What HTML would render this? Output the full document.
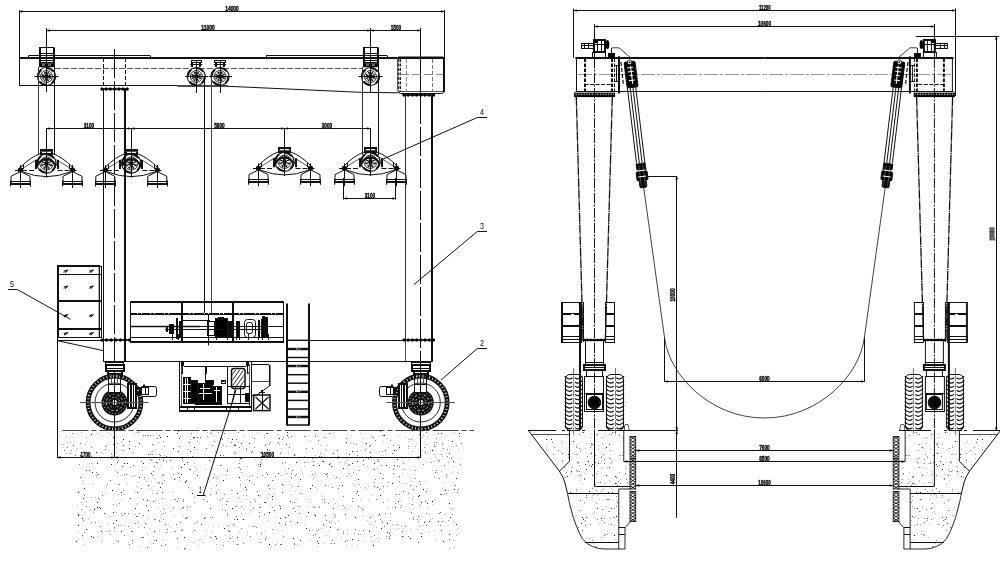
<!DOCTYPE html>
<html><head><meta charset="utf-8"><style>
html,body{margin:0;padding:0;background:#fff;}
body{width:1000px;height:572px;overflow:hidden;}
svg{display:block;font-family:"Liberation Sans",sans-serif;}
</style></head><body>
<svg width="1000" height="572" viewBox="0 0 1000 572">
<rect width="1000" height="572" fill="#fff"/>
<path d="M78.5 492.5h.01M232.5 439.5h.01M229.5 531.5h.01M173.5 448.5h.01M279.5 438.5h.01M123.5 445.5h.01M215.5 536.5h.01M296.5 462.5h.01M308.5 512.5h.01M97.5 507.5h.01M194.5 437.5h.01M197.5 475.5h.01M246.5 489.5h.01M394.5 450.5h.01M267.5 474.5h.01M352.5 451.5h.01M399.5 447.5h.01M185.5 518.5h.01M282.5 484.5h.01M97.5 463.5h.01M374.5 463.5h.01M288.5 515.5h.01M197.5 437.5h.01M181.5 474.5h.01M137.5 492.5h.01M274.5 510.5h.01M357.5 461.5h.01M287.5 432.5h.01M245.5 487.5h.01M423.5 489.5h.01M167.5 436.5h.01M280.5 518.5h.01M319.5 465.5h.01M92.5 472.5h.01M402.5 536.5h.01M453.5 461.5h.01M315.5 515.5h.01M343.5 468.5h.01M113.5 437.5h.01M438.5 521.5h.01M190.5 451.5h.01M392.5 483.5h.01M387.5 523.5h.01M184.5 464.5h.01M363.5 460.5h.01M163.5 441.5h.01M373.5 545.5h.01M280.5 508.5h.01M317.5 541.5h.01M454.5 489.5h.01M352.5 539.5h.01M285.5 522.5h.01M249.5 443.5h.01M124.5 525.5h.01M265.5 539.5h.01M148.5 510.5h.01M310.5 488.5h.01M156.5 540.5h.01M78.5 525.5h.01M181.5 467.5h.01M240.5 458.5h.01M143.5 537.5h.01M114.5 434.5h.01M313.5 465.5h.01M185.5 482.5h.01M100.5 508.5h.01M216.5 538.5h.01M135.5 508.5h.01M139.5 477.5h.01M183.5 507.5h.01M395.5 507.5h.01M323.5 461.5h.01M112.5 490.5h.01M418.5 496.5h.01M96.5 452.5h.01M318.5 543.5h.01M287.5 435.5h.01M249.5 480.5h.01M91.5 536.5h.01M450.5 517.5h.01M386.5 465.5h.01M389.5 538.5h.01M267.5 449.5h.01M267.5 433.5h.01M129.5 441.5h.01M443.5 541.5h.01M300.5 479.5h.01M297.5 522.5h.01M187.5 462.5h.01M113.5 512.5h.01M349.5 454.5h.01M410.5 538.5h.01M194.5 447.5h.01M294.5 455.5h.01M237.5 493.5h.01M272.5 496.5h.01M260.5 464.5h.01M389.5 533.5h.01M345.5 541.5h.01M290.5 501.5h.01M366.5 443.5h.01M306.5 528.5h.01M124.5 463.5h.01M239.5 477.5h.01M220.5 438.5h.01M148.5 485.5h.01M260.5 466.5h.01M182.5 458.5h.01M355.5 517.5h.01M179.5 477.5h.01M429.5 521.5h.01M394.5 465.5h.01M312.5 485.5h.01M369.5 531.5h.01M342.5 485.5h.01M123.5 439.5h.01M177.5 501.5h.01M452.5 441.5h.01M147.5 500.5h.01M265.5 502.5h.01M285.5 524.5h.01M398.5 501.5h.01M421.5 502.5h.01M151.5 473.5h.01M178.5 451.5h.01M432.5 501.5h.01M449.5 503.5h.01M160.5 487.5h.01M113.5 523.5h.01M269.5 544.5h.01M91.5 434.5h.01M432.5 450.5h.01M177.5 433.5h.01M116.5 520.5h.01M124.5 513.5h.01M379.5 514.5h.01M184.5 537.5h.01M357.5 491.5h.01M127.5 463.5h.01M184.5 548.5h.01M421.5 536.5h.01M268.5 485.5h.01M154.5 531.5h.01M424.5 522.5h.01M358.5 479.5h.01M86.5 529.5h.01M192.5 493.5h.01M160.5 455.5h.01M237.5 537.5h.01M232.5 508.5h.01M139.5 443.5h.01M78.5 515.5h.01M456.5 478.5h.01M101.5 531.5h.01M83.5 498.5h.01M94.5 509.5h.01M93.5 537.5h.01M258.5 495.5h.01M220.5 455.5h.01M117.5 462.5h.01M223.5 480.5h.01M401.5 526.5h.01M104.5 513.5h.01M380.5 473.5h.01M163.5 460.5h.01M224.5 528.5h.01M111.5 464.5h.01M84.5 488.5h.01M80.5 455.5h.01M241.5 443.5h.01M387.5 532.5h.01M377.5 487.5h.01M419.5 495.5h.01M97.5 502.5h.01M82.5 518.5h.01M427.5 503.5h.01M384.5 435.5h.01M121.5 492.5h.01M174.5 479.5h.01M387.5 486.5h.01M278.5 473.5h.01M456.5 524.5h.01M380.5 495.5h.01M156.5 462.5h.01M179.5 438.5h.01M370.5 452.5h.01M237.5 519.5h.01M329.5 464.5h.01M129.5 448.5h.01M204.5 518.5h.01M397.5 459.5h.01M346.5 442.5h.01M235.5 445.5h.01M449.5 534.5h.01M243.5 519.5h.01M326.5 474.5h.01M300.5 540.5h.01M121.5 531.5h.01M285.5 517.5h.01M293.5 538.5h.01M76.5 541.5h.01M269.5 512.5h.01M330.5 527.5h.01M143.5 463.5h.01M352.5 463.5h.01M459.5 433.5h.01M160.5 437.5h.01M381.5 528.5h.01" stroke="#222" stroke-width="1" stroke-linecap="square" fill="none"/>
<path d="M84.5 495.5h.01M181.5 529.5h.01M293.5 508.5h.01M139.5 513.5h.01M183.5 501.5h.01M413.5 519.5h.01M456.5 445.5h.01M365.5 449.5h.01M369.5 446.5h.01M390.5 535.5h.01M447.5 449.5h.01M150.5 459.5h.01M382.5 478.5h.01M82.5 456.5h.01M117.5 443.5h.01M306.5 448.5h.01M96.5 472.5h.01M444.5 494.5h.01M162.5 475.5h.01M390.5 520.5h.01M446.5 475.5h.01M148.5 454.5h.01M375.5 521.5h.01M128.5 526.5h.01M141.5 461.5h.01M153.5 501.5h.01M382.5 451.5h.01M352.5 498.5h.01M98.5 498.5h.01M264.5 514.5h.01M236.5 439.5h.01M396.5 450.5h.01M266.5 472.5h.01M78.5 514.5h.01M82.5 535.5h.01M152.5 444.5h.01M75.5 455.5h.01M180.5 522.5h.01M260.5 452.5h.01M280.5 453.5h.01M344.5 507.5h.01M83.5 520.5h.01M411.5 512.5h.01M154.5 466.5h.01M119.5 484.5h.01M163.5 441.5h.01M72.5 433.5h.01M415.5 478.5h.01M334.5 514.5h.01M67.5 447.5h.01M163.5 519.5h.01M257.5 477.5h.01M318.5 440.5h.01M159.5 520.5h.01M438.5 433.5h.01M239.5 463.5h.01M418.5 516.5h.01M239.5 467.5h.01M347.5 540.5h.01M296.5 474.5h.01M434.5 446.5h.01M178.5 498.5h.01M123.5 450.5h.01M426.5 491.5h.01M239.5 447.5h.01M418.5 521.5h.01M224.5 494.5h.01M193.5 438.5h.01M313.5 535.5h.01M166.5 461.5h.01M179.5 446.5h.01M319.5 537.5h.01M259.5 512.5h.01M147.5 435.5h.01M227.5 513.5h.01M182.5 530.5h.01M145.5 523.5h.01M445.5 490.5h.01M443.5 448.5h.01M436.5 470.5h.01M327.5 476.5h.01M441.5 433.5h.01M446.5 477.5h.01M189.5 469.5h.01M375.5 440.5h.01M259.5 516.5h.01M175.5 499.5h.01M357.5 455.5h.01M292.5 470.5h.01M461.5 443.5h.01M294.5 543.5h.01M410.5 485.5h.01M299.5 506.5h.01M206.5 448.5h.01M138.5 432.5h.01M333.5 453.5h.01M80.5 443.5h.01M122.5 515.5h.01M183.5 499.5h.01M228.5 530.5h.01M416.5 486.5h.01M434.5 444.5h.01M309.5 530.5h.01M377.5 457.5h.01M402.5 531.5h.01M212.5 445.5h.01M280.5 506.5h.01M227.5 501.5h.01M325.5 485.5h.01M374.5 486.5h.01M231.5 442.5h.01M355.5 529.5h.01M436.5 438.5h.01M167.5 529.5h.01M260.5 542.5h.01M162.5 492.5h.01M70.5 453.5h.01M272.5 507.5h.01M295.5 511.5h.01M116.5 505.5h.01M98.5 474.5h.01M294.5 502.5h.01M439.5 460.5h.01M375.5 479.5h.01M272.5 480.5h.01M280.5 544.5h.01M318.5 529.5h.01M150.5 435.5h.01M442.5 521.5h.01M415.5 470.5h.01M288.5 468.5h.01M435.5 472.5h.01M81.5 502.5h.01M442.5 443.5h.01M95.5 522.5h.01M233.5 524.5h.01M343.5 496.5h.01M256.5 527.5h.01M161.5 545.5h.01M143.5 515.5h.01M312.5 474.5h.01M419.5 434.5h.01M210.5 537.5h.01M363.5 509.5h.01M326.5 520.5h.01M152.5 454.5h.01M343.5 533.5h.01M118.5 460.5h.01M269.5 450.5h.01M380.5 519.5h.01M260.5 507.5h.01M113.5 504.5h.01M358.5 540.5h.01M290.5 521.5h.01M333.5 508.5h.01M313.5 461.5h.01M241.5 506.5h.01M331.5 543.5h.01M323.5 525.5h.01M223.5 545.5h.01M200.5 437.5h.01M218.5 432.5h.01M227.5 515.5h.01M440.5 494.5h.01M383.5 478.5h.01M147.5 547.5h.01M106.5 531.5h.01M403.5 463.5h.01M158.5 482.5h.01M170.5 460.5h.01M426.5 525.5h.01M282.5 463.5h.01M246.5 448.5h.01M399.5 476.5h.01M334.5 543.5h.01M457.5 492.5h.01M370.5 456.5h.01M175.5 531.5h.01M190.5 469.5h.01M178.5 431.5h.01M299.5 513.5h.01M285.5 462.5h.01M227.5 469.5h.01M238.5 432.5h.01M319.5 456.5h.01M154.5 519.5h.01M243.5 543.5h.01M390.5 440.5h.01M254.5 438.5h.01M114.5 527.5h.01M319.5 507.5h.01M376.5 499.5h.01M343.5 531.5h.01M395.5 503.5h.01M230.5 538.5h.01M332.5 487.5h.01M250.5 502.5h.01M203.5 499.5h.01M119.5 503.5h.01M254.5 499.5h.01M159.5 435.5h.01M283.5 536.5h.01M216.5 485.5h.01M145.5 435.5h.01M440.5 512.5h.01M252.5 451.5h.01M400.5 507.5h.01M194.5 530.5h.01M312.5 448.5h.01M164.5 480.5h.01M166.5 532.5h.01M123.5 490.5h.01M141.5 488.5h.01M160.5 455.5h.01M434.5 442.5h.01M396.5 494.5h.01M233.5 541.5h.01M289.5 447.5h.01M370.5 517.5h.01M258.5 464.5h.01M250.5 536.5h.01M131.5 531.5h.01M186.5 517.5h.01M451.5 458.5h.01M73.5 445.5h.01M439.5 478.5h.01M399.5 494.5h.01M440.5 525.5h.01M153.5 471.5h.01M438.5 461.5h.01M163.5 513.5h.01M157.5 493.5h.01M444.5 465.5h.01M446.5 493.5h.01M246.5 495.5h.01M105.5 446.5h.01M221.5 465.5h.01M137.5 516.5h.01M279.5 505.5h.01M182.5 460.5h.01M176.5 524.5h.01M82.5 536.5h.01M80.5 477.5h.01M356.5 444.5h.01M448.5 520.5h.01M412.5 504.5h.01M403.5 491.5h.01M130.5 467.5h.01M270.5 442.5h.01M272.5 529.5h.01M419.5 481.5h.01M315.5 436.5h.01M223.5 445.5h.01M187.5 517.5h.01M425.5 501.5h.01M235.5 506.5h.01M253.5 526.5h.01M126.5 474.5h.01M102.5 495.5h.01M393.5 473.5h.01M133.5 465.5h.01M385.5 450.5h.01M295.5 475.5h.01M165.5 524.5h.01M324.5 499.5h.01M214.5 441.5h.01M99.5 499.5h.01M348.5 465.5h.01M408.5 446.5h.01M327.5 473.5h.01M325.5 515.5h.01M71.5 450.5h.01M182.5 508.5h.01M397.5 524.5h.01M304.5 436.5h.01M100.5 526.5h.01M157.5 438.5h.01M223.5 455.5h.01M237.5 544.5h.01M177.5 538.5h.01M279.5 523.5h.01M328.5 503.5h.01M173.5 474.5h.01M79.5 464.5h.01M188.5 487.5h.01M286.5 444.5h.01M322.5 461.5h.01M399.5 466.5h.01M359.5 470.5h.01M393.5 469.5h.01M257.5 491.5h.01M337.5 450.5h.01M405.5 526.5h.01M227.5 471.5h.01M122.5 466.5h.01M285.5 473.5h.01M89.5 470.5h.01M207.5 501.5h.01M272.5 499.5h.01M222.5 439.5h.01M373.5 437.5h.01M393.5 445.5h.01M159.5 454.5h.01M130.5 498.5h.01M336.5 477.5h.01M383.5 435.5h.01M390.5 513.5h.01M86.5 470.5h.01M124.5 474.5h.01M291.5 477.5h.01M191.5 433.5h.01M459.5 436.5h.01M330.5 463.5h.01M314.5 507.5h.01M439.5 513.5h.01M221.5 438.5h.01M252.5 475.5h.01M281.5 544.5h.01M201.5 524.5h.01M411.5 439.5h.01M423.5 464.5h.01M64.5 450.5h.01M343.5 457.5h.01M386.5 536.5h.01M193.5 437.5h.01M189.5 442.5h.01M455.5 485.5h.01M323.5 524.5h.01M129.5 544.5h.01M259.5 507.5h.01M383.5 486.5h.01M81.5 509.5h.01M312.5 458.5h.01M162.5 483.5h.01M143.5 499.5h.01M408.5 536.5h.01M363.5 530.5h.01M141.5 537.5h.01M374.5 535.5h.01M261.5 459.5h.01M254.5 447.5h.01M128.5 513.5h.01M417.5 519.5h.01M222.5 498.5h.01M413.5 517.5h.01M213.5 477.5h.01M209.5 460.5h.01M210.5 517.5h.01M146.5 505.5h.01M269.5 488.5h.01M105.5 449.5h.01M339.5 485.5h.01M382.5 522.5h.01M152.5 475.5h.01M211.5 433.5h.01M288.5 437.5h.01M349.5 464.5h.01M315.5 534.5h.01M207.5 436.5h.01M205.5 517.5h.01M210.5 494.5h.01M298.5 486.5h.01M399.5 481.5h.01M420.5 484.5h.01M370.5 445.5h.01M389.5 536.5h.01M460.5 464.5h.01M282.5 492.5h.01M275.5 476.5h.01M255.5 501.5h.01M283.5 437.5h.01M331.5 466.5h.01M225.5 510.5h.01M426.5 513.5h.01M397.5 466.5h.01M118.5 541.5h.01M210.5 508.5h.01M278.5 442.5h.01M440.5 494.5h.01M197.5 521.5h.01M436.5 442.5h.01M91.5 447.5h.01M421.5 533.5h.01M324.5 437.5h.01M128.5 526.5h.01M291.5 473.5h.01M326.5 450.5h.01M413.5 489.5h.01M262.5 475.5h.01M216.5 493.5h.01M346.5 438.5h.01M338.5 529.5h.01M117.5 472.5h.01M136.5 457.5h.01M379.5 489.5h.01M349.5 473.5h.01M383.5 502.5h.01M150.5 454.5h.01M335.5 516.5h.01M441.5 530.5h.01M380.5 431.5h.01M226.5 504.5h.01M192.5 456.5h.01M401.5 505.5h.01M392.5 453.5h.01M447.5 474.5h.01M132.5 531.5h.01M241.5 528.5h.01M408.5 493.5h.01M86.5 506.5h.01M332.5 540.5h.01M291.5 436.5h.01M361.5 508.5h.01M345.5 514.5h.01M266.5 537.5h.01M357.5 451.5h.01M449.5 453.5h.01M441.5 454.5h.01M234.5 444.5h.01M374.5 469.5h.01M329.5 522.5h.01M173.5 507.5h.01M424.5 447.5h.01M220.5 500.5h.01M343.5 505.5h.01M166.5 456.5h.01M84.5 532.5h.01M144.5 527.5h.01M352.5 501.5h.01M264.5 502.5h.01M241.5 472.5h.01M220.5 465.5h.01M356.5 493.5h.01M136.5 516.5h.01M163.5 474.5h.01M180.5 436.5h.01M118.5 525.5h.01M263.5 456.5h.01M234.5 519.5h.01M253.5 508.5h.01M154.5 540.5h.01M315.5 516.5h.01M338.5 488.5h.01M153.5 543.5h.01M431.5 462.5h.01M321.5 456.5h.01M96.5 475.5h.01M300.5 493.5h.01M236.5 516.5h.01M178.5 473.5h.01M363.5 464.5h.01M224.5 433.5h.01M418.5 542.5h.01M275.5 544.5h.01M91.5 456.5h.01M426.5 432.5h.01M338.5 456.5h.01M113.5 444.5h.01M452.5 514.5h.01M132.5 540.5h.01M322.5 499.5h.01M378.5 461.5h.01M269.5 444.5h.01M381.5 465.5h.01M368.5 458.5h.01M144.5 477.5h.01M234.5 445.5h.01M251.5 452.5h.01M282.5 439.5h.01M441.5 494.5h.01M124.5 535.5h.01M240.5 469.5h.01M458.5 489.5h.01M266.5 433.5h.01M358.5 495.5h.01M358.5 534.5h.01M425.5 452.5h.01M143.5 435.5h.01M294.5 544.5h.01M186.5 480.5h.01M329.5 433.5h.01M304.5 462.5h.01M165.5 544.5h.01M265.5 445.5h.01M159.5 459.5h.01M358.5 506.5h.01M377.5 459.5h.01M447.5 456.5h.01M449.5 539.5h.01M369.5 446.5h.01M110.5 480.5h.01M234.5 452.5h.01M135.5 523.5h.01M186.5 481.5h.01M353.5 472.5h.01M212.5 517.5h.01M384.5 526.5h.01M99.5 507.5h.01" stroke="#777" stroke-width="1" stroke-linecap="square" fill="none"/>
<path d="M187.5 449.5h.01M146.5 506.5h.01M291.5 478.5h.01M177.5 527.5h.01M155.5 500.5h.01M368.5 500.5h.01M183.5 515.5h.01M292.5 486.5h.01M442.5 488.5h.01M79.5 515.5h.01M171.5 477.5h.01M239.5 497.5h.01M225.5 474.5h.01M226.5 475.5h.01M445.5 514.5h.01M423.5 525.5h.01M277.5 434.5h.01M456.5 535.5h.01M371.5 495.5h.01M190.5 457.5h.01M458.5 534.5h.01M161.5 514.5h.01M238.5 544.5h.01M310.5 539.5h.01M251.5 510.5h.01M89.5 510.5h.01M217.5 479.5h.01M116.5 540.5h.01M114.5 531.5h.01M324.5 473.5h.01M108.5 432.5h.01M321.5 494.5h.01M232.5 536.5h.01M226.5 446.5h.01M200.5 486.5h.01M425.5 481.5h.01M260.5 495.5h.01M267.5 498.5h.01M168.5 524.5h.01M285.5 522.5h.01M236.5 505.5h.01M273.5 488.5h.01M341.5 537.5h.01M161.5 498.5h.01M84.5 512.5h.01M422.5 449.5h.01M325.5 448.5h.01M451.5 457.5h.01M218.5 489.5h.01M190.5 506.5h.01M228.5 541.5h.01M161.5 449.5h.01M84.5 544.5h.01M383.5 441.5h.01M194.5 497.5h.01M164.5 446.5h.01M438.5 443.5h.01M232.5 490.5h.01M216.5 492.5h.01M457.5 472.5h.01M121.5 441.5h.01M449.5 548.5h.01M211.5 488.5h.01M150.5 501.5h.01M362.5 510.5h.01M458.5 449.5h.01M318.5 436.5h.01M420.5 506.5h.01M388.5 447.5h.01M261.5 532.5h.01M393.5 501.5h.01M98.5 532.5h.01M312.5 506.5h.01M382.5 521.5h.01M335.5 523.5h.01M165.5 512.5h.01M332.5 466.5h.01M421.5 455.5h.01M442.5 456.5h.01M113.5 494.5h.01M109.5 530.5h.01M196.5 469.5h.01M399.5 445.5h.01M207.5 478.5h.01M397.5 465.5h.01M157.5 463.5h.01M132.5 476.5h.01M417.5 529.5h.01M355.5 485.5h.01M195.5 467.5h.01M455.5 462.5h.01M153.5 462.5h.01M451.5 446.5h.01M422.5 488.5h.01M434.5 530.5h.01M118.5 494.5h.01M441.5 518.5h.01M368.5 486.5h.01M150.5 542.5h.01M83.5 494.5h.01M214.5 458.5h.01M151.5 460.5h.01M160.5 511.5h.01M381.5 520.5h.01M146.5 481.5h.01M216.5 539.5h.01M169.5 473.5h.01M140.5 474.5h.01M249.5 476.5h.01M134.5 475.5h.01M69.5 438.5h.01M160.5 521.5h.01M194.5 463.5h.01M307.5 462.5h.01M364.5 541.5h.01M231.5 490.5h.01M130.5 528.5h.01M392.5 524.5h.01M151.5 481.5h.01M331.5 521.5h.01M327.5 445.5h.01M155.5 449.5h.01M149.5 528.5h.01M390.5 532.5h.01M103.5 453.5h.01M159.5 503.5h.01M138.5 527.5h.01M171.5 468.5h.01M225.5 535.5h.01M204.5 454.5h.01M138.5 431.5h.01M310.5 475.5h.01M114.5 465.5h.01M135.5 446.5h.01M434.5 477.5h.01M144.5 479.5h.01M398.5 445.5h.01M255.5 459.5h.01M264.5 435.5h.01M88.5 519.5h.01M264.5 437.5h.01M110.5 534.5h.01M457.5 490.5h.01M430.5 450.5h.01M365.5 450.5h.01M438.5 513.5h.01M412.5 498.5h.01M416.5 443.5h.01M313.5 478.5h.01M291.5 474.5h.01M236.5 452.5h.01M158.5 508.5h.01M94.5 508.5h.01M285.5 473.5h.01M236.5 544.5h.01M136.5 504.5h.01M419.5 525.5h.01M360.5 487.5h.01M362.5 515.5h.01M346.5 463.5h.01M233.5 526.5h.01M163.5 508.5h.01M161.5 459.5h.01M427.5 507.5h.01M247.5 532.5h.01M406.5 483.5h.01M310.5 440.5h.01M66.5 436.5h.01M314.5 515.5h.01M390.5 530.5h.01M82.5 536.5h.01M100.5 435.5h.01M387.5 507.5h.01M160.5 465.5h.01M205.5 469.5h.01M261.5 534.5h.01M408.5 441.5h.01M137.5 523.5h.01M257.5 473.5h.01M378.5 515.5h.01M162.5 540.5h.01M243.5 495.5h.01M188.5 449.5h.01M234.5 524.5h.01M106.5 486.5h.01M353.5 443.5h.01M96.5 477.5h.01M218.5 526.5h.01M148.5 518.5h.01M372.5 515.5h.01M227.5 525.5h.01M120.5 525.5h.01M267.5 443.5h.01M276.5 517.5h.01M317.5 531.5h.01M335.5 478.5h.01M163.5 458.5h.01M108.5 524.5h.01M315.5 487.5h.01M316.5 530.5h.01M246.5 466.5h.01M251.5 482.5h.01M325.5 474.5h.01M405.5 437.5h.01M113.5 459.5h.01M197.5 449.5h.01M379.5 451.5h.01M304.5 525.5h.01M421.5 526.5h.01M135.5 514.5h.01M359.5 484.5h.01M259.5 496.5h.01M246.5 499.5h.01M448.5 440.5h.01M315.5 434.5h.01M423.5 435.5h.01M311.5 471.5h.01M205.5 488.5h.01M228.5 498.5h.01M261.5 463.5h.01M454.5 510.5h.01M295.5 507.5h.01M432.5 504.5h.01M378.5 541.5h.01M307.5 506.5h.01M328.5 486.5h.01M372.5 541.5h.01M206.5 530.5h.01M387.5 500.5h.01M297.5 544.5h.01M61.5 431.5h.01M347.5 534.5h.01M89.5 507.5h.01M354.5 451.5h.01M290.5 484.5h.01M213.5 526.5h.01M335.5 503.5h.01M162.5 482.5h.01M396.5 529.5h.01M289.5 464.5h.01M385.5 513.5h.01M197.5 441.5h.01M381.5 455.5h.01M437.5 459.5h.01M159.5 521.5h.01M243.5 441.5h.01M371.5 459.5h.01M422.5 538.5h.01M133.5 452.5h.01M98.5 507.5h.01M374.5 482.5h.01M369.5 530.5h.01M448.5 462.5h.01M317.5 546.5h.01M199.5 540.5h.01M398.5 436.5h.01M345.5 509.5h.01M77.5 448.5h.01M435.5 457.5h.01M238.5 442.5h.01M281.5 448.5h.01M425.5 444.5h.01M78.5 539.5h.01M422.5 437.5h.01M87.5 441.5h.01M306.5 516.5h.01M355.5 480.5h.01M192.5 532.5h.01M257.5 432.5h.01M122.5 475.5h.01M347.5 529.5h.01M363.5 438.5h.01M446.5 490.5h.01M97.5 461.5h.01M67.5 442.5h.01M134.5 433.5h.01M291.5 494.5h.01M97.5 536.5h.01M221.5 447.5h.01M408.5 448.5h.01M361.5 450.5h.01M457.5 528.5h.01M314.5 475.5h.01M83.5 483.5h.01M63.5 447.5h.01M373.5 544.5h.01M386.5 538.5h.01M277.5 542.5h.01M320.5 445.5h.01M91.5 497.5h.01M305.5 499.5h.01M265.5 477.5h.01M408.5 459.5h.01M256.5 465.5h.01M193.5 473.5h.01M307.5 533.5h.01M267.5 520.5h.01M366.5 488.5h.01M412.5 431.5h.01M295.5 491.5h.01M289.5 481.5h.01M240.5 486.5h.01M175.5 478.5h.01M212.5 469.5h.01M432.5 470.5h.01M138.5 482.5h.01M59.5 436.5h.01M258.5 542.5h.01M267.5 493.5h.01M214.5 474.5h.01M198.5 545.5h.01M219.5 498.5h.01M254.5 484.5h.01M185.5 549.5h.01M265.5 444.5h.01M337.5 530.5h.01M173.5 492.5h.01M132.5 453.5h.01M302.5 473.5h.01M377.5 468.5h.01M400.5 501.5h.01M135.5 491.5h.01M164.5 509.5h.01M124.5 494.5h.01M420.5 501.5h.01M405.5 469.5h.01M389.5 467.5h.01M448.5 490.5h.01M154.5 478.5h.01M145.5 468.5h.01M453.5 466.5h.01M194.5 449.5h.01M92.5 463.5h.01M107.5 484.5h.01M351.5 476.5h.01M140.5 546.5h.01M344.5 462.5h.01M304.5 456.5h.01M105.5 493.5h.01M403.5 469.5h.01M427.5 524.5h.01M402.5 473.5h.01M129.5 444.5h.01M399.5 499.5h.01M159.5 483.5h.01M339.5 478.5h.01M443.5 482.5h.01M338.5 520.5h.01M341.5 482.5h.01M435.5 446.5h.01M385.5 462.5h.01M452.5 508.5h.01M110.5 516.5h.01M152.5 460.5h.01M285.5 471.5h.01M89.5 517.5h.01M233.5 453.5h.01M319.5 506.5h.01M111.5 434.5h.01M316.5 533.5h.01M124.5 525.5h.01M280.5 475.5h.01M153.5 435.5h.01M312.5 530.5h.01M235.5 454.5h.01M171.5 511.5h.01M328.5 530.5h.01M453.5 540.5h.01M454.5 547.5h.01M387.5 438.5h.01M304.5 466.5h.01M445.5 489.5h.01M177.5 472.5h.01M66.5 453.5h.01M238.5 441.5h.01M101.5 452.5h.01M279.5 444.5h.01M158.5 442.5h.01M158.5 490.5h.01M409.5 497.5h.01M365.5 444.5h.01M350.5 443.5h.01M215.5 451.5h.01M207.5 432.5h.01M142.5 467.5h.01M229.5 538.5h.01M412.5 499.5h.01M412.5 451.5h.01M194.5 523.5h.01M357.5 545.5h.01M95.5 497.5h.01M101.5 542.5h.01M63.5 444.5h.01M413.5 496.5h.01M116.5 491.5h.01M250.5 450.5h.01M216.5 536.5h.01M260.5 462.5h.01M271.5 546.5h.01M371.5 536.5h.01M170.5 527.5h.01M367.5 520.5h.01M315.5 473.5h.01M240.5 484.5h.01M178.5 468.5h.01M128.5 501.5h.01M137.5 503.5h.01M320.5 454.5h.01M111.5 453.5h.01M413.5 508.5h.01M142.5 470.5h.01M321.5 480.5h.01M192.5 490.5h.01M434.5 499.5h.01M77.5 505.5h.01M388.5 482.5h.01M296.5 498.5h.01M301.5 471.5h.01M160.5 517.5h.01M373.5 468.5h.01M460.5 458.5h.01M79.5 491.5h.01M116.5 452.5h.01M374.5 460.5h.01M425.5 444.5h.01M409.5 438.5h.01M223.5 542.5h.01M138.5 522.5h.01M190.5 489.5h.01M121.5 513.5h.01M240.5 501.5h.01M454.5 432.5h.01M194.5 542.5h.01M97.5 433.5h.01M199.5 491.5h.01M198.5 457.5h.01M322.5 496.5h.01M185.5 481.5h.01M434.5 461.5h.01M102.5 533.5h.01M427.5 436.5h.01M187.5 509.5h.01M360.5 534.5h.01M151.5 507.5h.01M270.5 505.5h.01M187.5 507.5h.01M427.5 488.5h.01M113.5 543.5h.01M269.5 494.5h.01M152.5 451.5h.01M243.5 508.5h.01M211.5 531.5h.01M97.5 474.5h.01M333.5 475.5h.01M228.5 526.5h.01M222.5 509.5h.01M199.5 477.5h.01M434.5 454.5h.01M346.5 476.5h.01M190.5 439.5h.01M264.5 530.5h.01M333.5 498.5h.01M91.5 522.5h.01M77.5 513.5h.01M252.5 437.5h.01M226.5 501.5h.01M183.5 461.5h.01M410.5 528.5h.01M383.5 455.5h.01M273.5 480.5h.01M187.5 464.5h.01M174.5 516.5h.01M297.5 486.5h.01M408.5 439.5h.01M128.5 542.5h.01M383.5 491.5h.01M398.5 448.5h.01M293.5 469.5h.01M399.5 449.5h.01M353.5 483.5h.01M409.5 503.5h.01M434.5 434.5h.01M451.5 472.5h.01M239.5 460.5h.01M281.5 526.5h.01M244.5 435.5h.01M441.5 471.5h.01M246.5 450.5h.01M153.5 536.5h.01M420.5 432.5h.01M255.5 526.5h.01M337.5 458.5h.01M420.5 441.5h.01M150.5 503.5h.01M387.5 486.5h.01M155.5 519.5h.01M374.5 540.5h.01M315.5 455.5h.01M450.5 512.5h.01M110.5 531.5h.01M425.5 521.5h.01M393.5 525.5h.01M177.5 547.5h.01M442.5 445.5h.01M377.5 461.5h.01M152.5 490.5h.01M376.5 527.5h.01M90.5 509.5h.01M194.5 502.5h.01M61.5 444.5h.01M91.5 463.5h.01M236.5 510.5h.01M419.5 504.5h.01M216.5 491.5h.01M199.5 443.5h.01M435.5 539.5h.01M447.5 474.5h.01M314.5 476.5h.01M78.5 532.5h.01M283.5 485.5h.01M420.5 519.5h.01M420.5 448.5h.01M367.5 466.5h.01M321.5 528.5h.01M121.5 500.5h.01M216.5 477.5h.01M164.5 455.5h.01M239.5 532.5h.01M365.5 487.5h.01M203.5 542.5h.01M371.5 436.5h.01M287.5 473.5h.01M279.5 522.5h.01M180.5 509.5h.01M314.5 514.5h.01M216.5 544.5h.01M195.5 478.5h.01M198.5 453.5h.01M273.5 494.5h.01M82.5 480.5h.01M404.5 511.5h.01M401.5 526.5h.01M116.5 512.5h.01M260.5 539.5h.01M359.5 530.5h.01M415.5 446.5h.01M82.5 504.5h.01M93.5 512.5h.01M383.5 474.5h.01M237.5 498.5h.01M100.5 458.5h.01M194.5 471.5h.01M399.5 528.5h.01M228.5 438.5h.01M241.5 513.5h.01M163.5 498.5h.01M453.5 521.5h.01M432.5 518.5h.01M409.5 518.5h.01M200.5 539.5h.01M380.5 488.5h.01M107.5 444.5h.01M346.5 545.5h.01M60.5 456.5h.01M210.5 432.5h.01M187.5 506.5h.01M136.5 486.5h.01M247.5 479.5h.01M347.5 460.5h.01M148.5 478.5h.01M392.5 507.5h.01M70.5 442.5h.01M330.5 543.5h.01M346.5 453.5h.01M377.5 538.5h.01M282.5 530.5h.01M309.5 502.5h.01M86.5 437.5h.01M360.5 433.5h.01M354.5 533.5h.01M367.5 448.5h.01M85.5 444.5h.01M222.5 504.5h.01M430.5 519.5h.01M429.5 532.5h.01M403.5 483.5h.01M93.5 484.5h.01M323.5 543.5h.01M370.5 524.5h.01M393.5 468.5h.01M205.5 496.5h.01M121.5 495.5h.01M429.5 514.5h.01M127.5 483.5h.01M338.5 521.5h.01M450.5 508.5h.01M324.5 503.5h.01M179.5 480.5h.01M437.5 472.5h.01M147.5 534.5h.01M325.5 502.5h.01M81.5 432.5h.01M317.5 488.5h.01M203.5 487.5h.01M360.5 499.5h.01M89.5 463.5h.01M259.5 504.5h.01M114.5 528.5h.01M112.5 454.5h.01M333.5 432.5h.01M150.5 488.5h.01M443.5 490.5h.01M309.5 457.5h.01M242.5 458.5h.01M153.5 445.5h.01M116.5 447.5h.01M151.5 451.5h.01M240.5 480.5h.01M326.5 535.5h.01M411.5 481.5h.01M403.5 528.5h.01M324.5 501.5h.01M134.5 440.5h.01M288.5 452.5h.01M249.5 513.5h.01M320.5 452.5h.01M356.5 474.5h.01M86.5 501.5h.01M291.5 474.5h.01M120.5 475.5h.01M369.5 532.5h.01M315.5 516.5h.01M159.5 530.5h.01M403.5 536.5h.01M136.5 432.5h.01M149.5 463.5h.01M115.5 471.5h.01M121.5 442.5h.01M340.5 462.5h.01M132.5 543.5h.01M76.5 449.5h.01M295.5 454.5h.01M93.5 511.5h.01M111.5 454.5h.01" stroke="#bbb" stroke-width="1" stroke-linecap="square" fill="none"/>
<line x1="19.5" y1="10" x2="19.5" y2="85" stroke="#111" stroke-width="1"/>
<line x1="444.5" y1="10" x2="444.5" y2="57" stroke="#111" stroke-width="1"/>
<line x1="19" y1="11.5" x2="444.5" y2="11.5" stroke="#111" stroke-width="1"/>
<path d="M19 11.5 L22.2 10.4 L22.2 12.6 Z" fill="#000" stroke="#111" stroke-width="0.2"/>
<path d="M444.5 11.5 L441.3 10.4 L441.3 12.6 Z" fill="#000" stroke="#111" stroke-width="0.2"/>
<line x1="46.5" y1="28" x2="46.5" y2="48" stroke="#111" stroke-width="1"/>
<line x1="370.5" y1="28" x2="370.5" y2="48" stroke="#111" stroke-width="1"/>
<line x1="420.5" y1="28" x2="420.5" y2="57" stroke="#111" stroke-width="1"/>
<line x1="46.5" y1="30.5" x2="370.5" y2="30.5" stroke="#111" stroke-width="1"/>
<path d="M46.5 30.5 L49.7 29.4 L49.7 31.6 Z" fill="#000" stroke="#111" stroke-width="0.2"/>
<path d="M370.5 30.5 L367.3 29.4 L367.3 31.6 Z" fill="#000" stroke="#111" stroke-width="0.2"/>
<line x1="370.5" y1="30.5" x2="420.8" y2="30.5" stroke="#111" stroke-width="1"/>
<path d="M370.5 30.5 L373.7 29.4 L373.7 31.6 Z" fill="#000" stroke="#111" stroke-width="0.2"/>
<path d="M420.8 30.5 L417.6 29.4 L417.6 31.6 Z" fill="#000" stroke="#111" stroke-width="0.2"/>
<line x1="19" y1="58" x2="398" y2="58" stroke="#111" stroke-width="2"/>
<line x1="19" y1="85.5" x2="177.5" y2="85.5" stroke="#111" stroke-width="1"/>
<line x1="177.5" y1="86" x2="228" y2="86" stroke="#111" stroke-width="1.4"/>
<line x1="228" y1="86.3" x2="360" y2="92.3" stroke="#111" stroke-width="1"/>
<line x1="360" y1="92.3" x2="398" y2="92.8" stroke="#111" stroke-width="1"/>
<line x1="28.5" y1="55.5" x2="150" y2="55.5" stroke="#111" stroke-width="1"/>
<line x1="28.5" y1="55.6" x2="28.5" y2="58" stroke="#111" stroke-width="1"/>
<line x1="150.5" y1="55.6" x2="150.5" y2="58" stroke="#111" stroke-width="1"/>
<line x1="266" y1="55.5" x2="387" y2="55.5" stroke="#111" stroke-width="1"/>
<line x1="266.5" y1="55.6" x2="266.5" y2="58" stroke="#111" stroke-width="1"/>
<line x1="387.5" y1="55.6" x2="387.5" y2="58" stroke="#111" stroke-width="1"/>
<line x1="55" y1="68.5" x2="362" y2="68.5" stroke="#555" stroke-width="1" stroke-dasharray="6 2"/>
<rect x="397.5" y="56.5" width="46" height="35" fill="none" stroke="#555" stroke-width="1" rx="1.5"/>
<line x1="398" y1="56.5" x2="443" y2="56.5" stroke="#888" stroke-width="1"/>
<line x1="398" y1="58" x2="444" y2="58" stroke="#111" stroke-width="2"/>
<path d="M398.5 91.5 Q398.5 93.5 400.5 93.5 L441.5 93.5 Q443.5 93.5 443.5 91.5" fill="none" stroke="#111" stroke-width="1"/>
<line x1="444" y1="57" x2="444" y2="92" stroke="#111" stroke-width="2"/>
<line x1="398.5" y1="59" x2="398.5" y2="92" stroke="#333" stroke-width="1" stroke-dasharray="3 1.5"/>
<line x1="400.3" y1="59" x2="400.3" y2="92" stroke="#222" stroke-width="1.5" stroke-dasharray="3 1.5"/>
<line x1="406.5" y1="59" x2="406.5" y2="92" stroke="#888" stroke-width="1" stroke-dasharray="4 2"/>
<line x1="432.5" y1="59" x2="432.5" y2="92" stroke="#777" stroke-width="1" stroke-dasharray="4 2"/>
<line x1="420.5" y1="50" x2="420.5" y2="95" stroke="#111" stroke-width="1"/>
<line x1="400" y1="74.5" x2="443" y2="74.5" stroke="#888" stroke-width="1" stroke-dasharray="9 3"/>
<line x1="39" y1="47.5" x2="54" y2="47.5" stroke="#111" stroke-width="1"/>
<line x1="40" y1="47.5" x2="40" y2="67" stroke="#111" stroke-width="2"/>
<line x1="54" y1="47.5" x2="54" y2="67" stroke="#111" stroke-width="2"/>
<line x1="40" y1="53.5" x2="53" y2="53.5" stroke="#111" stroke-width="1"/>
<line x1="40" y1="60.5" x2="53" y2="60.5" stroke="#111" stroke-width="1"/>
<line x1="40" y1="62.5" x2="53" y2="62.5" stroke="#111" stroke-width="1"/>
<rect x="39.5" y="63.5" width="14" height="3.5" fill="#000" stroke="#111" stroke-width="0.5"/>
<line x1="42" y1="65" x2="45" y2="65" stroke="#fff" stroke-width="0.8"/>
<line x1="48" y1="65" x2="51" y2="65" stroke="#fff" stroke-width="0.8"/>
<line x1="42.5" y1="54.6" x2="50.5" y2="54.6" stroke="#fff" stroke-width="0.8" stroke-dasharray="1.5 1.5"/>
<circle cx="46.5" cy="76.5" r="9" fill="none" stroke="#111" stroke-width="1.1"/>
<circle cx="46.5" cy="76.5" r="8.4" fill="none" stroke="#111" stroke-width="1.8" stroke-dasharray="7.56 5.63"/>
<circle cx="46.5" cy="76.5" r="6" fill="none" stroke="#333" stroke-width="1"/>
<circle cx="46.5" cy="76.5" r="4.2" fill="none" stroke="#444" stroke-width="1" stroke-dasharray="3 1.2"/>
<circle cx="46.5" cy="76.5" r="2.1" fill="#000" stroke="#111" stroke-width="0.5"/>
<line x1="48.54" y1="77.32" x2="51.32" y2="78.45" stroke="#111" stroke-width="1.2"/>
<line x1="47.36" y1="78.53" x2="48.53" y2="81.29" stroke="#111" stroke-width="1.2"/>
<line x1="45.68" y1="78.54" x2="44.55" y2="81.32" stroke="#111" stroke-width="1.2"/>
<line x1="44.47" y1="77.36" x2="41.71" y2="78.53" stroke="#111" stroke-width="1.2"/>
<line x1="44.46" y1="75.68" x2="41.68" y2="74.55" stroke="#111" stroke-width="1.2"/>
<line x1="45.64" y1="74.47" x2="44.47" y2="71.71" stroke="#111" stroke-width="1.2"/>
<line x1="47.32" y1="74.46" x2="48.45" y2="71.68" stroke="#111" stroke-width="1.2"/>
<line x1="48.53" y1="75.64" x2="51.29" y2="74.47" stroke="#111" stroke-width="1.2"/>
<line x1="34.5" y1="76.5" x2="58.5" y2="76.5" stroke="#111" stroke-width="1"/>
<line x1="46.5" y1="40" x2="46.5" y2="92" stroke="#111" stroke-width="1"/>
<line x1="363" y1="47.5" x2="378" y2="47.5" stroke="#111" stroke-width="1"/>
<line x1="364" y1="47.5" x2="364" y2="67" stroke="#111" stroke-width="2"/>
<line x1="378" y1="47.5" x2="378" y2="67" stroke="#111" stroke-width="2"/>
<line x1="364" y1="53.5" x2="377" y2="53.5" stroke="#111" stroke-width="1"/>
<line x1="364" y1="60.5" x2="377" y2="60.5" stroke="#111" stroke-width="1"/>
<line x1="364" y1="62.5" x2="377" y2="62.5" stroke="#111" stroke-width="1"/>
<rect x="363.5" y="63.5" width="14" height="3.5" fill="#000" stroke="#111" stroke-width="0.5"/>
<line x1="366" y1="65" x2="369" y2="65" stroke="#fff" stroke-width="0.8"/>
<line x1="372" y1="65" x2="375" y2="65" stroke="#fff" stroke-width="0.8"/>
<line x1="366.5" y1="54.6" x2="374.5" y2="54.6" stroke="#fff" stroke-width="0.8" stroke-dasharray="1.5 1.5"/>
<circle cx="370.5" cy="76.5" r="9" fill="none" stroke="#111" stroke-width="1.1"/>
<circle cx="370.5" cy="76.5" r="8.4" fill="none" stroke="#111" stroke-width="1.8" stroke-dasharray="7.56 5.63"/>
<circle cx="370.5" cy="76.5" r="6" fill="none" stroke="#333" stroke-width="1"/>
<circle cx="370.5" cy="76.5" r="4.2" fill="none" stroke="#444" stroke-width="1" stroke-dasharray="3 1.2"/>
<circle cx="370.5" cy="76.5" r="2.1" fill="#000" stroke="#111" stroke-width="0.5"/>
<line x1="372.54" y1="77.32" x2="375.32" y2="78.45" stroke="#111" stroke-width="1.2"/>
<line x1="371.36" y1="78.53" x2="372.53" y2="81.29" stroke="#111" stroke-width="1.2"/>
<line x1="369.68" y1="78.54" x2="368.55" y2="81.32" stroke="#111" stroke-width="1.2"/>
<line x1="368.47" y1="77.36" x2="365.71" y2="78.53" stroke="#111" stroke-width="1.2"/>
<line x1="368.46" y1="75.68" x2="365.68" y2="74.55" stroke="#111" stroke-width="1.2"/>
<line x1="369.64" y1="74.47" x2="368.47" y2="71.71" stroke="#111" stroke-width="1.2"/>
<line x1="371.32" y1="74.46" x2="372.45" y2="71.68" stroke="#111" stroke-width="1.2"/>
<line x1="372.53" y1="75.64" x2="375.29" y2="74.47" stroke="#111" stroke-width="1.2"/>
<line x1="358.5" y1="76.5" x2="382.5" y2="76.5" stroke="#111" stroke-width="1"/>
<line x1="370.5" y1="40" x2="370.5" y2="92" stroke="#111" stroke-width="1"/>
<rect x="191.5" y="60.5" width="10" height="2" fill="none" stroke="#111" stroke-width="1"/>
<line x1="192" y1="62.5" x2="192" y2="67" stroke="#111" stroke-width="2"/>
<line x1="200" y1="62.5" x2="200" y2="67" stroke="#111" stroke-width="2"/>
<line x1="190.3" y1="64.5" x2="202.3" y2="64.5" stroke="#111" stroke-width="1"/>
<circle cx="196.3" cy="76.5" r="9" fill="none" stroke="#111" stroke-width="1.1"/>
<circle cx="196.3" cy="76.5" r="8.4" fill="none" stroke="#111" stroke-width="1.8" stroke-dasharray="7.56 5.63"/>
<circle cx="196.3" cy="76.5" r="6" fill="none" stroke="#333" stroke-width="1"/>
<circle cx="196.3" cy="76.5" r="4.2" fill="none" stroke="#444" stroke-width="1" stroke-dasharray="3 1.2"/>
<circle cx="196.3" cy="76.5" r="2.1" fill="#000" stroke="#111" stroke-width="0.5"/>
<line x1="198.34" y1="77.32" x2="201.12" y2="78.45" stroke="#111" stroke-width="1.2"/>
<line x1="197.16" y1="78.53" x2="198.33" y2="81.29" stroke="#111" stroke-width="1.2"/>
<line x1="195.48" y1="78.54" x2="194.35" y2="81.32" stroke="#111" stroke-width="1.2"/>
<line x1="194.27" y1="77.36" x2="191.51" y2="78.53" stroke="#111" stroke-width="1.2"/>
<line x1="194.26" y1="75.68" x2="191.48" y2="74.55" stroke="#111" stroke-width="1.2"/>
<line x1="195.44" y1="74.47" x2="194.27" y2="71.71" stroke="#111" stroke-width="1.2"/>
<line x1="197.12" y1="74.46" x2="198.25" y2="71.68" stroke="#111" stroke-width="1.2"/>
<line x1="198.33" y1="75.64" x2="201.09" y2="74.47" stroke="#111" stroke-width="1.2"/>
<line x1="185.3" y1="76.5" x2="208.3" y2="76.5" stroke="#111" stroke-width="1"/>
<line x1="196.5" y1="60" x2="196.5" y2="93" stroke="#111" stroke-width="1"/>
<rect x="214.5" y="60.5" width="11" height="2" fill="none" stroke="#111" stroke-width="1"/>
<line x1="216" y1="62.5" x2="216" y2="67" stroke="#111" stroke-width="2"/>
<line x1="224" y1="62.5" x2="224" y2="67" stroke="#111" stroke-width="2"/>
<line x1="214" y1="64.5" x2="226" y2="64.5" stroke="#111" stroke-width="1"/>
<circle cx="220" cy="76.5" r="9" fill="none" stroke="#111" stroke-width="1.1"/>
<circle cx="220" cy="76.5" r="8.4" fill="none" stroke="#111" stroke-width="1.8" stroke-dasharray="7.56 5.63"/>
<circle cx="220" cy="76.5" r="6" fill="none" stroke="#333" stroke-width="1"/>
<circle cx="220" cy="76.5" r="4.2" fill="none" stroke="#444" stroke-width="1" stroke-dasharray="3 1.2"/>
<circle cx="220" cy="76.5" r="2.1" fill="#000" stroke="#111" stroke-width="0.5"/>
<line x1="222.04" y1="77.32" x2="224.82" y2="78.45" stroke="#111" stroke-width="1.2"/>
<line x1="220.86" y1="78.53" x2="222.03" y2="81.29" stroke="#111" stroke-width="1.2"/>
<line x1="219.18" y1="78.54" x2="218.05" y2="81.32" stroke="#111" stroke-width="1.2"/>
<line x1="217.97" y1="77.36" x2="215.21" y2="78.53" stroke="#111" stroke-width="1.2"/>
<line x1="217.96" y1="75.68" x2="215.18" y2="74.55" stroke="#111" stroke-width="1.2"/>
<line x1="219.14" y1="74.47" x2="217.97" y2="71.71" stroke="#111" stroke-width="1.2"/>
<line x1="220.82" y1="74.46" x2="221.95" y2="71.68" stroke="#111" stroke-width="1.2"/>
<line x1="222.03" y1="75.64" x2="224.79" y2="74.47" stroke="#111" stroke-width="1.2"/>
<line x1="209" y1="76.5" x2="232" y2="76.5" stroke="#111" stroke-width="1"/>
<line x1="220.5" y1="60" x2="220.5" y2="93" stroke="#111" stroke-width="1"/>
<line x1="38.5" y1="67" x2="38.5" y2="155" stroke="#333" stroke-width="1"/>
<line x1="54.5" y1="67" x2="54.5" y2="155" stroke="#111" stroke-width="1"/>
<line x1="46.5" y1="128" x2="46.5" y2="150" stroke="#111" stroke-width="1"/>
<line x1="362.5" y1="67" x2="362.5" y2="155" stroke="#333" stroke-width="1"/>
<line x1="378.5" y1="67" x2="378.5" y2="155" stroke="#111" stroke-width="1"/>
<line x1="370.5" y1="128" x2="370.5" y2="150" stroke="#111" stroke-width="1"/>
<line x1="204.5" y1="77" x2="204.5" y2="314" stroke="#111" stroke-width="1"/>
<line x1="211.5" y1="77" x2="211.5" y2="314" stroke="#444" stroke-width="1"/>
<line x1="284.5" y1="128" x2="284.5" y2="150" stroke="#111" stroke-width="1"/>
<line x1="131.5" y1="128" x2="131.5" y2="150" stroke="#111" stroke-width="1"/>
<line x1="46.5" y1="128.5" x2="131.3" y2="128.5" stroke="#111" stroke-width="1"/>
<path d="M46.5 128.5 L49.7 127.4 L49.7 129.6 Z" fill="#000" stroke="#111" stroke-width="0.2"/>
<path d="M131.3 128.5 L128.1 127.4 L128.1 129.6 Z" fill="#000" stroke="#111" stroke-width="0.2"/>
<line x1="131.3" y1="128.5" x2="284.5" y2="128.5" stroke="#111" stroke-width="1"/>
<path d="M131.3 128.5 L134.5 127.4 L134.5 129.6 Z" fill="#000" stroke="#111" stroke-width="0.2"/>
<path d="M284.5 128.5 L281.3 127.4 L281.3 129.6 Z" fill="#000" stroke="#111" stroke-width="0.2"/>
<line x1="284.5" y1="128.5" x2="370.5" y2="128.5" stroke="#111" stroke-width="1"/>
<path d="M284.5 128.5 L287.7 127.4 L287.7 129.6 Z" fill="#000" stroke="#111" stroke-width="0.2"/>
<path d="M370.5 128.5 L367.3 127.4 L367.3 129.6 Z" fill="#000" stroke="#111" stroke-width="0.2"/>
<line x1="343.5" y1="178" x2="343.5" y2="199.5" stroke="#111" stroke-width="1"/>
<line x1="395.5" y1="178" x2="395.5" y2="199.5" stroke="#111" stroke-width="1"/>
<line x1="343.8" y1="198.5" x2="395.8" y2="198.5" stroke="#111" stroke-width="1"/>
<path d="M343.8 198.5 L347 197.4 L347 199.6 Z" fill="#000" stroke="#111" stroke-width="0.2"/>
<path d="M395.8 198.5 L392.6 197.4 L392.6 199.6 Z" fill="#000" stroke="#111" stroke-width="0.2"/>
<rect x="41" y="150" width="11" height="4" fill="none" stroke="#111" stroke-width="2"/>
<line x1="40.7" y1="151.5" x2="52.3" y2="151.5" stroke="#555" stroke-width="1"/>
<circle cx="46.5" cy="163.5" r="9.6" fill="none" stroke="#111" stroke-width="1.1"/>
<circle cx="46.5" cy="163.5" r="9" fill="none" stroke="#111" stroke-width="1.8" stroke-dasharray="8.1 6.03"/>
<circle cx="46.5" cy="163.5" r="6.6" fill="none" stroke="#333" stroke-width="1"/>
<circle cx="46.5" cy="163.5" r="4.8" fill="none" stroke="#444" stroke-width="1" stroke-dasharray="3 1.2"/>
<circle cx="46.5" cy="163.5" r="2.1" fill="#000" stroke="#111" stroke-width="0.5"/>
<line x1="48.54" y1="164.32" x2="51.88" y2="165.67" stroke="#111" stroke-width="1.2"/>
<line x1="47.36" y1="165.53" x2="48.77" y2="168.84" stroke="#111" stroke-width="1.2"/>
<line x1="45.68" y1="165.54" x2="44.33" y2="168.88" stroke="#111" stroke-width="1.2"/>
<line x1="44.47" y1="164.36" x2="41.16" y2="165.77" stroke="#111" stroke-width="1.2"/>
<line x1="44.46" y1="162.68" x2="41.12" y2="161.33" stroke="#111" stroke-width="1.2"/>
<line x1="45.64" y1="161.47" x2="44.23" y2="158.16" stroke="#111" stroke-width="1.2"/>
<line x1="47.32" y1="161.46" x2="48.67" y2="158.12" stroke="#111" stroke-width="1.2"/>
<line x1="48.53" y1="162.64" x2="51.84" y2="161.23" stroke="#111" stroke-width="1.2"/>
<path d="M55.7 166 A9.6 9.6 0 0 0 37.3 166" fill="none" stroke="#111" stroke-width="2.2"/>
<line x1="46.5" y1="150" x2="46.5" y2="177.5" stroke="#111" stroke-width="1"/>
<path d="M40.7 153.5 Q30.5 157 20.5 167.2" fill="none" stroke="#111" stroke-width="1"/>
<line x1="36.7" y1="159.5" x2="22" y2="168.8" stroke="#555" stroke-width="1"/>
<circle cx="20.5" cy="170" r="2.3" fill="#000" stroke="#111" stroke-width="1"/>
<line x1="23.5" y1="169" x2="23.5" y2="164.5" stroke="#111" stroke-width="1"/>
<line x1="36" y1="160" x2="36" y2="169" stroke="#111" stroke-width="2"/>
<path d="M19 172.3 L11 176.3 L11 185 M22 172.3 L30 176.3 L30 185" fill="none" stroke="#111" stroke-width="1"/>
<line x1="10.5" y1="181.5" x2="30.5" y2="181.5" stroke="#111" stroke-width="1"/>
<line x1="10.2" y1="184" x2="30.8" y2="184" stroke="#111" stroke-width="2"/>
<line x1="20.5" y1="165" x2="20.5" y2="188" stroke="#111" stroke-width="1"/>
<line x1="10.5" y1="180.5" x2="10.5" y2="186.5" stroke="#111" stroke-width="1"/>
<line x1="30.5" y1="180.5" x2="30.5" y2="186.5" stroke="#111" stroke-width="1"/>
<path d="M52.3 153.5 Q62.5 157 72.5 167.2" fill="none" stroke="#111" stroke-width="1"/>
<line x1="56.3" y1="159.5" x2="71" y2="168.8" stroke="#555" stroke-width="1"/>
<circle cx="72.5" cy="170" r="2.3" fill="#000" stroke="#111" stroke-width="1"/>
<line x1="69.5" y1="169" x2="69.5" y2="164.5" stroke="#111" stroke-width="1"/>
<line x1="58" y1="160" x2="58" y2="169" stroke="#111" stroke-width="2"/>
<path d="M71 172.3 L63 176.3 L63 185 M74 172.3 L82 176.3 L82 185" fill="none" stroke="#111" stroke-width="1"/>
<line x1="62.5" y1="181.5" x2="82.5" y2="181.5" stroke="#111" stroke-width="1"/>
<line x1="62.2" y1="184" x2="82.8" y2="184" stroke="#111" stroke-width="2"/>
<line x1="72.5" y1="165" x2="72.5" y2="188" stroke="#111" stroke-width="1"/>
<line x1="62.5" y1="180.5" x2="62.5" y2="186.5" stroke="#111" stroke-width="1"/>
<line x1="82.5" y1="180.5" x2="82.5" y2="186.5" stroke="#111" stroke-width="1"/>
<line x1="15" y1="170.5" x2="35.5" y2="170.5" stroke="#111" stroke-width="1" stroke-dasharray="5 2"/>
<line x1="57.5" y1="170.5" x2="78" y2="170.5" stroke="#111" stroke-width="1" stroke-dasharray="5 2"/>
<path d="M22.5 171.8 Q46.5 181.5 70.5 171.8" fill="none" stroke="#111" stroke-width="1"/>
<rect x="126" y="150" width="11" height="4" fill="none" stroke="#111" stroke-width="2"/>
<line x1="125.5" y1="151.5" x2="137.1" y2="151.5" stroke="#555" stroke-width="1"/>
<circle cx="131.3" cy="163.5" r="9.6" fill="none" stroke="#111" stroke-width="1.1"/>
<circle cx="131.3" cy="163.5" r="9" fill="none" stroke="#111" stroke-width="1.8" stroke-dasharray="8.1 6.03"/>
<circle cx="131.3" cy="163.5" r="6.6" fill="none" stroke="#333" stroke-width="1"/>
<circle cx="131.3" cy="163.5" r="4.8" fill="none" stroke="#444" stroke-width="1" stroke-dasharray="3 1.2"/>
<circle cx="131.3" cy="163.5" r="2.1" fill="#000" stroke="#111" stroke-width="0.5"/>
<line x1="133.34" y1="164.32" x2="136.68" y2="165.67" stroke="#111" stroke-width="1.2"/>
<line x1="132.16" y1="165.53" x2="133.57" y2="168.84" stroke="#111" stroke-width="1.2"/>
<line x1="130.48" y1="165.54" x2="129.13" y2="168.88" stroke="#111" stroke-width="1.2"/>
<line x1="129.27" y1="164.36" x2="125.96" y2="165.77" stroke="#111" stroke-width="1.2"/>
<line x1="129.26" y1="162.68" x2="125.92" y2="161.33" stroke="#111" stroke-width="1.2"/>
<line x1="130.44" y1="161.47" x2="129.03" y2="158.16" stroke="#111" stroke-width="1.2"/>
<line x1="132.12" y1="161.46" x2="133.47" y2="158.12" stroke="#111" stroke-width="1.2"/>
<line x1="133.33" y1="162.64" x2="136.64" y2="161.23" stroke="#111" stroke-width="1.2"/>
<path d="M140.5 166 A9.6 9.6 0 0 0 122.1 166" fill="none" stroke="#111" stroke-width="2.2"/>
<line x1="131.5" y1="150" x2="131.5" y2="177.5" stroke="#111" stroke-width="1"/>
<path d="M125.5 153.5 Q115.3 157 105.3 167.2" fill="none" stroke="#111" stroke-width="1"/>
<line x1="121.5" y1="159.5" x2="106.8" y2="168.8" stroke="#555" stroke-width="1"/>
<circle cx="105.3" cy="170" r="2.3" fill="#000" stroke="#111" stroke-width="1"/>
<line x1="108.5" y1="169" x2="108.5" y2="164.5" stroke="#111" stroke-width="1"/>
<line x1="120" y1="160" x2="120" y2="169" stroke="#111" stroke-width="2"/>
<path d="M103.8 172.3 L95.8 176.3 L95.8 185 M106.8 172.3 L114.8 176.3 L114.8 185" fill="none" stroke="#111" stroke-width="1"/>
<line x1="95.3" y1="181.5" x2="115.3" y2="181.5" stroke="#111" stroke-width="1"/>
<line x1="95" y1="184" x2="115.6" y2="184" stroke="#111" stroke-width="2"/>
<line x1="105.5" y1="165" x2="105.5" y2="188" stroke="#111" stroke-width="1"/>
<line x1="95.5" y1="180.5" x2="95.5" y2="186.5" stroke="#111" stroke-width="1"/>
<line x1="115.5" y1="180.5" x2="115.5" y2="186.5" stroke="#111" stroke-width="1"/>
<path d="M137.1 153.5 Q147.3 157 157.3 167.2" fill="none" stroke="#111" stroke-width="1"/>
<line x1="141.1" y1="159.5" x2="155.8" y2="168.8" stroke="#555" stroke-width="1"/>
<circle cx="157.3" cy="170" r="2.3" fill="#000" stroke="#111" stroke-width="1"/>
<line x1="154.5" y1="169" x2="154.5" y2="164.5" stroke="#111" stroke-width="1"/>
<line x1="142" y1="160" x2="142" y2="169" stroke="#111" stroke-width="2"/>
<path d="M155.8 172.3 L147.8 176.3 L147.8 185 M158.8 172.3 L166.8 176.3 L166.8 185" fill="none" stroke="#111" stroke-width="1"/>
<line x1="147.3" y1="181.5" x2="167.3" y2="181.5" stroke="#111" stroke-width="1"/>
<line x1="147" y1="184" x2="167.6" y2="184" stroke="#111" stroke-width="2"/>
<line x1="157.5" y1="165" x2="157.5" y2="188" stroke="#111" stroke-width="1"/>
<line x1="147.5" y1="180.5" x2="147.5" y2="186.5" stroke="#111" stroke-width="1"/>
<line x1="167.5" y1="180.5" x2="167.5" y2="186.5" stroke="#111" stroke-width="1"/>
<line x1="99.8" y1="170.5" x2="120.3" y2="170.5" stroke="#111" stroke-width="1" stroke-dasharray="5 2"/>
<line x1="142.3" y1="170.5" x2="162.8" y2="170.5" stroke="#111" stroke-width="1" stroke-dasharray="5 2"/>
<path d="M107.3 171.8 Q131.3 181.5 155.3 171.8" fill="none" stroke="#111" stroke-width="1"/>
<rect x="279" y="148" width="11" height="4" fill="none" stroke="#111" stroke-width="2"/>
<line x1="278.7" y1="150.5" x2="290.3" y2="150.5" stroke="#555" stroke-width="1"/>
<circle cx="284.5" cy="161.8" r="9.6" fill="none" stroke="#111" stroke-width="1.1"/>
<circle cx="284.5" cy="161.8" r="9" fill="none" stroke="#111" stroke-width="1.8" stroke-dasharray="8.1 6.03"/>
<circle cx="284.5" cy="161.8" r="6.6" fill="none" stroke="#333" stroke-width="1"/>
<circle cx="284.5" cy="161.8" r="4.8" fill="none" stroke="#444" stroke-width="1" stroke-dasharray="3 1.2"/>
<circle cx="284.5" cy="161.8" r="2.1" fill="#000" stroke="#111" stroke-width="0.5"/>
<line x1="286.54" y1="162.62" x2="289.88" y2="163.97" stroke="#111" stroke-width="1.2"/>
<line x1="285.36" y1="163.83" x2="286.77" y2="167.14" stroke="#111" stroke-width="1.2"/>
<line x1="283.68" y1="163.84" x2="282.33" y2="167.18" stroke="#111" stroke-width="1.2"/>
<line x1="282.47" y1="162.66" x2="279.16" y2="164.07" stroke="#111" stroke-width="1.2"/>
<line x1="282.46" y1="160.98" x2="279.12" y2="159.63" stroke="#111" stroke-width="1.2"/>
<line x1="283.64" y1="159.77" x2="282.23" y2="156.46" stroke="#111" stroke-width="1.2"/>
<line x1="285.32" y1="159.76" x2="286.67" y2="156.42" stroke="#111" stroke-width="1.2"/>
<line x1="286.53" y1="160.94" x2="289.84" y2="159.53" stroke="#111" stroke-width="1.2"/>
<path d="M293.7 164.3 A9.6 9.6 0 0 0 275.3 164.3" fill="none" stroke="#111" stroke-width="2.2"/>
<line x1="284.5" y1="148.3" x2="284.5" y2="175.8" stroke="#111" stroke-width="1"/>
<path d="M278.7 151.8 Q268.5 155.3 258.5 165.5" fill="none" stroke="#111" stroke-width="1"/>
<line x1="274.7" y1="157.8" x2="260" y2="167.1" stroke="#555" stroke-width="1"/>
<circle cx="258.5" cy="168.3" r="2.3" fill="#000" stroke="#111" stroke-width="1"/>
<line x1="261.5" y1="167.3" x2="261.5" y2="162.8" stroke="#111" stroke-width="1"/>
<line x1="274" y1="158.3" x2="274" y2="167.3" stroke="#111" stroke-width="2"/>
<path d="M257 170.6 L249 174.6 L249 183.3 M260 170.6 L268 174.6 L268 183.3" fill="none" stroke="#111" stroke-width="1"/>
<line x1="248.5" y1="179.5" x2="268.5" y2="179.5" stroke="#111" stroke-width="1"/>
<line x1="248.2" y1="182" x2="268.8" y2="182" stroke="#111" stroke-width="2"/>
<line x1="258.5" y1="163.3" x2="258.5" y2="186.3" stroke="#111" stroke-width="1"/>
<line x1="248.5" y1="178.8" x2="248.5" y2="184.8" stroke="#111" stroke-width="1"/>
<line x1="268.5" y1="178.8" x2="268.5" y2="184.8" stroke="#111" stroke-width="1"/>
<path d="M290.3 151.8 Q300.5 155.3 310.5 165.5" fill="none" stroke="#111" stroke-width="1"/>
<line x1="294.3" y1="157.8" x2="309" y2="167.1" stroke="#555" stroke-width="1"/>
<circle cx="310.5" cy="168.3" r="2.3" fill="#000" stroke="#111" stroke-width="1"/>
<line x1="307.5" y1="167.3" x2="307.5" y2="162.8" stroke="#111" stroke-width="1"/>
<line x1="296" y1="158.3" x2="296" y2="167.3" stroke="#111" stroke-width="2"/>
<path d="M309 170.6 L301 174.6 L301 183.3 M312 170.6 L320 174.6 L320 183.3" fill="none" stroke="#111" stroke-width="1"/>
<line x1="300.5" y1="179.5" x2="320.5" y2="179.5" stroke="#111" stroke-width="1"/>
<line x1="300.2" y1="182" x2="320.8" y2="182" stroke="#111" stroke-width="2"/>
<line x1="310.5" y1="163.3" x2="310.5" y2="186.3" stroke="#111" stroke-width="1"/>
<line x1="300.5" y1="178.8" x2="300.5" y2="184.8" stroke="#111" stroke-width="1"/>
<line x1="320.5" y1="178.8" x2="320.5" y2="184.8" stroke="#111" stroke-width="1"/>
<line x1="253" y1="168.5" x2="273.5" y2="168.5" stroke="#111" stroke-width="1" stroke-dasharray="5 2"/>
<line x1="295.5" y1="168.5" x2="316" y2="168.5" stroke="#111" stroke-width="1" stroke-dasharray="5 2"/>
<path d="M260.5 170.1 Q284.5 179.8 308.5 170.1" fill="none" stroke="#111" stroke-width="1"/>
<rect x="365" y="148" width="11" height="4" fill="none" stroke="#111" stroke-width="2"/>
<line x1="364.7" y1="150.5" x2="376.3" y2="150.5" stroke="#555" stroke-width="1"/>
<circle cx="370.5" cy="161.8" r="9.6" fill="none" stroke="#111" stroke-width="1.1"/>
<circle cx="370.5" cy="161.8" r="9" fill="none" stroke="#111" stroke-width="1.8" stroke-dasharray="8.1 6.03"/>
<circle cx="370.5" cy="161.8" r="6.6" fill="none" stroke="#333" stroke-width="1"/>
<circle cx="370.5" cy="161.8" r="4.8" fill="none" stroke="#444" stroke-width="1" stroke-dasharray="3 1.2"/>
<circle cx="370.5" cy="161.8" r="2.1" fill="#000" stroke="#111" stroke-width="0.5"/>
<line x1="372.54" y1="162.62" x2="375.88" y2="163.97" stroke="#111" stroke-width="1.2"/>
<line x1="371.36" y1="163.83" x2="372.77" y2="167.14" stroke="#111" stroke-width="1.2"/>
<line x1="369.68" y1="163.84" x2="368.33" y2="167.18" stroke="#111" stroke-width="1.2"/>
<line x1="368.47" y1="162.66" x2="365.16" y2="164.07" stroke="#111" stroke-width="1.2"/>
<line x1="368.46" y1="160.98" x2="365.12" y2="159.63" stroke="#111" stroke-width="1.2"/>
<line x1="369.64" y1="159.77" x2="368.23" y2="156.46" stroke="#111" stroke-width="1.2"/>
<line x1="371.32" y1="159.76" x2="372.67" y2="156.42" stroke="#111" stroke-width="1.2"/>
<line x1="372.53" y1="160.94" x2="375.84" y2="159.53" stroke="#111" stroke-width="1.2"/>
<path d="M379.7 164.3 A9.6 9.6 0 0 0 361.3 164.3" fill="none" stroke="#111" stroke-width="2.2"/>
<line x1="370.5" y1="148.3" x2="370.5" y2="175.8" stroke="#111" stroke-width="1"/>
<path d="M364.7 151.8 Q354.5 155.3 344.5 165.5" fill="none" stroke="#111" stroke-width="1"/>
<line x1="360.7" y1="157.8" x2="346" y2="167.1" stroke="#555" stroke-width="1"/>
<circle cx="344.5" cy="168.3" r="2.3" fill="#000" stroke="#111" stroke-width="1"/>
<line x1="347.5" y1="167.3" x2="347.5" y2="162.8" stroke="#111" stroke-width="1"/>
<line x1="360" y1="158.3" x2="360" y2="167.3" stroke="#111" stroke-width="2"/>
<path d="M343 170.6 L335 174.6 L335 183.3 M346 170.6 L354 174.6 L354 183.3" fill="none" stroke="#111" stroke-width="1"/>
<line x1="334.5" y1="179.5" x2="354.5" y2="179.5" stroke="#111" stroke-width="1"/>
<line x1="334.2" y1="182" x2="354.8" y2="182" stroke="#111" stroke-width="2"/>
<line x1="344.5" y1="163.3" x2="344.5" y2="186.3" stroke="#111" stroke-width="1"/>
<line x1="334.5" y1="178.8" x2="334.5" y2="184.8" stroke="#111" stroke-width="1"/>
<line x1="354.5" y1="178.8" x2="354.5" y2="184.8" stroke="#111" stroke-width="1"/>
<path d="M376.3 151.8 Q386.5 155.3 396.5 165.5" fill="none" stroke="#111" stroke-width="1"/>
<line x1="380.3" y1="157.8" x2="395" y2="167.1" stroke="#555" stroke-width="1"/>
<circle cx="396.5" cy="168.3" r="2.3" fill="#000" stroke="#111" stroke-width="1"/>
<line x1="393.5" y1="167.3" x2="393.5" y2="162.8" stroke="#111" stroke-width="1"/>
<line x1="382" y1="158.3" x2="382" y2="167.3" stroke="#111" stroke-width="2"/>
<path d="M395 170.6 L387 174.6 L387 183.3 M398 170.6 L406 174.6 L406 183.3" fill="none" stroke="#111" stroke-width="1"/>
<line x1="386.5" y1="179.5" x2="406.5" y2="179.5" stroke="#111" stroke-width="1"/>
<line x1="386.2" y1="182" x2="406.8" y2="182" stroke="#111" stroke-width="2"/>
<line x1="396.5" y1="163.3" x2="396.5" y2="186.3" stroke="#111" stroke-width="1"/>
<line x1="386.5" y1="178.8" x2="386.5" y2="184.8" stroke="#111" stroke-width="1"/>
<line x1="406.5" y1="178.8" x2="406.5" y2="184.8" stroke="#111" stroke-width="1"/>
<line x1="339" y1="168.5" x2="359.5" y2="168.5" stroke="#111" stroke-width="1" stroke-dasharray="5 2"/>
<line x1="381.5" y1="168.5" x2="402" y2="168.5" stroke="#111" stroke-width="1" stroke-dasharray="5 2"/>
<path d="M346.5 170.1 Q370.5 179.8 394.5 170.1" fill="none" stroke="#111" stroke-width="1"/>
<line x1="103.5" y1="58" x2="103.5" y2="89" stroke="#111" stroke-width="1" stroke-dasharray="4 2"/>
<line x1="125.5" y1="58" x2="125.5" y2="89" stroke="#111" stroke-width="1" stroke-dasharray="4 2"/>
<line x1="114.5" y1="49" x2="114.5" y2="362" stroke="#111" stroke-width="1" stroke-dasharray="29 3"/>
<line x1="103.5" y1="89" x2="103.5" y2="340" stroke="#111" stroke-width="1"/>
<line x1="125" y1="89" x2="125" y2="340" stroke="#111" stroke-width="2"/>
<line x1="103.5" y1="340" x2="103.5" y2="361.8" stroke="#111" stroke-width="1"/>
<line x1="125" y1="340" x2="125" y2="361.8" stroke="#111" stroke-width="2"/>
<line x1="101" y1="89" x2="128.2" y2="89" stroke="#111" stroke-width="1.6"/>
<circle cx="102" cy="89" r="1.5" fill="#000" stroke="#111" stroke-width="0.3"/>
<circle cx="106.2" cy="89" r="1.5" fill="#000" stroke="#111" stroke-width="0.3"/>
<circle cx="110.4" cy="89" r="1.5" fill="#000" stroke="#111" stroke-width="0.3"/>
<circle cx="114.6" cy="89" r="1.5" fill="#000" stroke="#111" stroke-width="0.3"/>
<circle cx="118.8" cy="89" r="1.5" fill="#000" stroke="#111" stroke-width="0.3"/>
<circle cx="123" cy="89" r="1.5" fill="#000" stroke="#111" stroke-width="0.3"/>
<circle cx="127.2" cy="89" r="1.5" fill="#000" stroke="#111" stroke-width="0.3"/>
<line x1="101" y1="340" x2="130.5" y2="340" stroke="#111" stroke-width="1.6"/>
<circle cx="102" cy="340" r="1.5" fill="#000" stroke="#111" stroke-width="0.3"/>
<circle cx="106.58" cy="340" r="1.5" fill="#000" stroke="#111" stroke-width="0.3"/>
<circle cx="111.17" cy="340" r="1.5" fill="#000" stroke="#111" stroke-width="0.3"/>
<circle cx="115.75" cy="340" r="1.5" fill="#000" stroke="#111" stroke-width="0.3"/>
<circle cx="120.33" cy="340" r="1.5" fill="#000" stroke="#111" stroke-width="0.3"/>
<circle cx="124.92" cy="340" r="1.5" fill="#000" stroke="#111" stroke-width="0.3"/>
<circle cx="129.5" cy="340" r="1.5" fill="#000" stroke="#111" stroke-width="0.3"/>
<line x1="405.5" y1="95" x2="405.5" y2="340" stroke="#333" stroke-width="1"/>
<line x1="432" y1="95" x2="432" y2="340" stroke="#111" stroke-width="2"/>
<line x1="420.5" y1="95" x2="420.5" y2="376" stroke="#111" stroke-width="1" stroke-dasharray="29 3"/>
<line x1="405.5" y1="340" x2="405.5" y2="361.8" stroke="#444" stroke-width="1"/>
<line x1="432" y1="340" x2="432" y2="361.8" stroke="#111" stroke-width="2"/>
<line x1="403" y1="95" x2="434.5" y2="95" stroke="#111" stroke-width="1.6"/>
<circle cx="404" cy="95" r="1.5" fill="#000" stroke="#111" stroke-width="0.3"/>
<circle cx="408.21" cy="95" r="1.5" fill="#000" stroke="#111" stroke-width="0.3"/>
<circle cx="412.43" cy="95" r="1.5" fill="#000" stroke="#111" stroke-width="0.3"/>
<circle cx="416.64" cy="95" r="1.5" fill="#000" stroke="#111" stroke-width="0.3"/>
<circle cx="420.86" cy="95" r="1.5" fill="#000" stroke="#111" stroke-width="0.3"/>
<circle cx="425.07" cy="95" r="1.5" fill="#000" stroke="#111" stroke-width="0.3"/>
<circle cx="429.29" cy="95" r="1.5" fill="#000" stroke="#111" stroke-width="0.3"/>
<circle cx="433.5" cy="95" r="1.5" fill="#000" stroke="#111" stroke-width="0.3"/>
<line x1="403" y1="340" x2="434.5" y2="340" stroke="#111" stroke-width="1.6"/>
<circle cx="404" cy="340" r="1.5" fill="#000" stroke="#111" stroke-width="0.3"/>
<circle cx="408.21" cy="340" r="1.5" fill="#000" stroke="#111" stroke-width="0.3"/>
<circle cx="412.43" cy="340" r="1.5" fill="#000" stroke="#111" stroke-width="0.3"/>
<circle cx="416.64" cy="340" r="1.5" fill="#000" stroke="#111" stroke-width="0.3"/>
<circle cx="420.86" cy="340" r="1.5" fill="#000" stroke="#111" stroke-width="0.3"/>
<circle cx="425.07" cy="340" r="1.5" fill="#000" stroke="#111" stroke-width="0.3"/>
<circle cx="429.29" cy="340" r="1.5" fill="#000" stroke="#111" stroke-width="0.3"/>
<circle cx="433.5" cy="340" r="1.5" fill="#000" stroke="#111" stroke-width="0.3"/>
<rect x="57.5" y="266.5" width="44" height="71" fill="none" stroke="#111" stroke-width="1"/>
<line x1="57" y1="266" x2="100" y2="266" stroke="#111" stroke-width="2"/>
<line x1="58" y1="266" x2="58" y2="337.5" stroke="#111" stroke-width="2"/>
<line x1="57.2" y1="274.5" x2="101" y2="274.5" stroke="#111" stroke-width="1"/>
<line x1="57.2" y1="301" x2="101" y2="301" stroke="#111" stroke-width="2"/>
<line x1="57.2" y1="329" x2="101" y2="329" stroke="#111" stroke-width="2"/>
<line x1="99.3" y1="266.3" x2="99.3" y2="337.5" stroke="#111" stroke-width="1.3"/>
<line x1="64" y1="272.5" x2="67" y2="269.5" stroke="#111" stroke-width="1"/>
<line x1="65.2" y1="272.8" x2="68.2" y2="269.8" stroke="#111" stroke-width="1"/>
<line x1="63.7" y1="271" x2="67.5" y2="270.5" stroke="#111" stroke-width="1"/>
<line x1="89.5" y1="272.5" x2="92.5" y2="269.5" stroke="#111" stroke-width="1"/>
<line x1="90.7" y1="272.8" x2="93.7" y2="269.8" stroke="#111" stroke-width="1"/>
<line x1="89.2" y1="271" x2="93" y2="270.5" stroke="#111" stroke-width="1"/>
<line x1="64" y1="288.5" x2="67" y2="285.5" stroke="#111" stroke-width="1"/>
<line x1="65.2" y1="288.8" x2="68.2" y2="285.8" stroke="#111" stroke-width="1"/>
<line x1="63.7" y1="287" x2="67.5" y2="286.5" stroke="#111" stroke-width="1"/>
<line x1="89.5" y1="288.5" x2="92.5" y2="285.5" stroke="#111" stroke-width="1"/>
<line x1="90.7" y1="288.8" x2="93.7" y2="285.8" stroke="#111" stroke-width="1"/>
<line x1="89.2" y1="287" x2="93" y2="286.5" stroke="#111" stroke-width="1"/>
<line x1="64" y1="317" x2="67" y2="314" stroke="#111" stroke-width="1"/>
<line x1="65.2" y1="317.3" x2="68.2" y2="314.3" stroke="#111" stroke-width="1"/>
<line x1="63.7" y1="315.5" x2="67.5" y2="315" stroke="#111" stroke-width="1"/>
<line x1="89.5" y1="317" x2="92.5" y2="314" stroke="#111" stroke-width="1"/>
<line x1="90.7" y1="317.3" x2="93.7" y2="314.3" stroke="#111" stroke-width="1"/>
<line x1="89.2" y1="315.5" x2="93" y2="315" stroke="#111" stroke-width="1"/>
<line x1="64" y1="335" x2="67" y2="332" stroke="#111" stroke-width="1"/>
<line x1="65.2" y1="335.3" x2="68.2" y2="332.3" stroke="#111" stroke-width="1"/>
<line x1="63.7" y1="333.5" x2="67.5" y2="333" stroke="#111" stroke-width="1"/>
<line x1="89.5" y1="335" x2="92.5" y2="332" stroke="#111" stroke-width="1"/>
<line x1="90.7" y1="335.3" x2="93.7" y2="332.3" stroke="#111" stroke-width="1"/>
<line x1="89.2" y1="333.5" x2="93" y2="333" stroke="#111" stroke-width="1"/>
<line x1="57.2" y1="340.6" x2="103" y2="350.6" stroke="#111" stroke-width="1"/>
<line x1="57.5" y1="337.5" x2="57.5" y2="457.5" stroke="#111" stroke-width="1"/>
<line x1="57.2" y1="340.5" x2="101" y2="340.5" stroke="#111" stroke-width="1"/>
<line x1="8" y1="289.5" x2="17.5" y2="289.5" stroke="#111" stroke-width="1"/>
<line x1="17.5" y1="289.6" x2="70.5" y2="319.3" stroke="#111" stroke-width="1"/>
<rect x="130.5" y="302.5" width="153" height="40" fill="none" stroke="#111" stroke-width="1"/>
<line x1="130.3" y1="302" x2="283.8" y2="302" stroke="#111" stroke-width="2"/>
<line x1="130.3" y1="314" x2="283.8" y2="314" stroke="#111" stroke-width="2"/>
<line x1="130.3" y1="326.5" x2="283.8" y2="326.5" stroke="#111" stroke-width="1"/>
<line x1="130.3" y1="337.5" x2="283.8" y2="337.5" stroke="#111" stroke-width="1"/>
<line x1="130.3" y1="342" x2="283.8" y2="342" stroke="#111" stroke-width="2"/>
<line x1="182" y1="302.6" x2="182" y2="343" stroke="#111" stroke-width="2"/>
<line x1="233" y1="302.6" x2="233" y2="343" stroke="#111" stroke-width="2"/>
<line x1="137" y1="313.5" x2="138" y2="313.5" stroke="#fff" stroke-width="1"/>
<line x1="141" y1="313.5" x2="142" y2="313.5" stroke="#fff" stroke-width="1"/>
<line x1="150" y1="313.5" x2="151" y2="313.5" stroke="#fff" stroke-width="1"/>
<line x1="154" y1="313.5" x2="155" y2="313.5" stroke="#fff" stroke-width="1"/>
<line x1="164" y1="313.5" x2="165" y2="313.5" stroke="#fff" stroke-width="1"/>
<line x1="168" y1="313.5" x2="169" y2="313.5" stroke="#fff" stroke-width="1"/>
<line x1="189" y1="313.5" x2="190" y2="313.5" stroke="#fff" stroke-width="1"/>
<line x1="193" y1="313.5" x2="194" y2="313.5" stroke="#fff" stroke-width="1"/>
<line x1="204" y1="313.5" x2="205" y2="313.5" stroke="#fff" stroke-width="1"/>
<line x1="208" y1="313.5" x2="209" y2="313.5" stroke="#fff" stroke-width="1"/>
<line x1="219" y1="313.5" x2="220" y2="313.5" stroke="#fff" stroke-width="1"/>
<line x1="223" y1="313.5" x2="224" y2="313.5" stroke="#fff" stroke-width="1"/>
<line x1="239" y1="313.5" x2="240" y2="313.5" stroke="#fff" stroke-width="1"/>
<line x1="243" y1="313.5" x2="244" y2="313.5" stroke="#fff" stroke-width="1"/>
<line x1="255" y1="313.5" x2="256" y2="313.5" stroke="#fff" stroke-width="1"/>
<line x1="259" y1="313.5" x2="260" y2="313.5" stroke="#fff" stroke-width="1"/>
<line x1="271" y1="313.5" x2="272" y2="313.5" stroke="#fff" stroke-width="1"/>
<line x1="275" y1="313.5" x2="276" y2="313.5" stroke="#fff" stroke-width="1"/>
<rect x="166.5" y="326.5" width="1" height="5" fill="#000" stroke="#111" stroke-width="1"/>
<rect x="169.5" y="324.5" width="4" height="9" fill="#000" stroke="#111" stroke-width="1"/>
<rect x="176.5" y="318.5" width="1" height="20" fill="#000" stroke="#111" stroke-width="1"/>
<rect x="179.5" y="321.5" width="1" height="16" fill="#000" stroke="#111" stroke-width="1"/>
<line x1="165" y1="329.5" x2="201" y2="329.5" stroke="#111" stroke-width="1"/>
<rect x="207.5" y="321.5" width="7" height="14" fill="none" stroke="#111" stroke-width="1"/>
<rect x="215.5" y="318.5" width="12" height="18" fill="#000" stroke="#111" stroke-width="1"/>
<rect x="218.5" y="317.5" width="5" height="2" fill="#000" stroke="#111" stroke-width="1"/>
<rect x="228.5" y="321.5" width="4" height="15" fill="none" stroke="#111" stroke-width="1"/>
<rect x="229.5" y="322.5" width="2" height="13" fill="#000" stroke="#111" stroke-width="1"/>
<rect x="236.5" y="321.5" width="3" height="15" fill="#000" stroke="#111" stroke-width="1"/>
<rect x="244.5" y="319.5" width="11" height="18" fill="none" stroke="#111" stroke-width="1" rx="3"/>
<rect x="246.5" y="322.5" width="6" height="11" fill="none" stroke="#111" stroke-width="1" rx="2"/>
<rect x="258.5" y="320.5" width="1" height="17" fill="#000" stroke="#111" stroke-width="1"/>
<rect x="261.5" y="319.5" width="3" height="18" fill="#000" stroke="#111" stroke-width="1"/>
<rect x="265.5" y="317.5" width="2" height="20" fill="#000" stroke="#111" stroke-width="1"/>
<rect x="262.5" y="316.5" width="2" height="2" fill="#000" stroke="#111" stroke-width="1"/>
<line x1="201" y1="329.5" x2="262" y2="329.5" stroke="#111" stroke-width="1"/>
<line x1="208.5" y1="314" x2="208.5" y2="345.5" stroke="#111" stroke-width="1"/>
<line x1="182" y1="320.5" x2="210" y2="320.5" stroke="#111" stroke-width="1"/>
<line x1="172.5" y1="334" x2="172.5" y2="340" stroke="#111" stroke-width="1"/>
<line x1="178.5" y1="334" x2="178.5" y2="340" stroke="#111" stroke-width="1"/>
<line x1="216.5" y1="334" x2="216.5" y2="340" stroke="#111" stroke-width="1"/>
<line x1="227.5" y1="334" x2="227.5" y2="340" stroke="#111" stroke-width="1"/>
<line x1="236.5" y1="334" x2="236.5" y2="340" stroke="#111" stroke-width="1"/>
<line x1="239.5" y1="334" x2="239.5" y2="340" stroke="#111" stroke-width="1"/>
<line x1="248.5" y1="334" x2="248.5" y2="340" stroke="#111" stroke-width="1"/>
<line x1="258.5" y1="334" x2="258.5" y2="340" stroke="#111" stroke-width="1"/>
<line x1="262.5" y1="334" x2="262.5" y2="340" stroke="#111" stroke-width="1"/>
<line x1="268.5" y1="334" x2="268.5" y2="340" stroke="#111" stroke-width="1"/>
<line x1="130.3" y1="326.5" x2="200" y2="326.5" stroke="#111" stroke-width="1.4"/>
<line x1="287" y1="303.5" x2="287" y2="425.5" stroke="#111" stroke-width="2"/>
<line x1="309" y1="303.5" x2="309" y2="425.5" stroke="#111" stroke-width="2"/>
<line x1="287" y1="340.3" x2="309.2" y2="340.3" stroke="#111" stroke-width="1.4"/>
<line x1="287" y1="349" x2="309.2" y2="349" stroke="#111" stroke-width="2.4"/>
<line x1="287" y1="357.5" x2="309.2" y2="357.5" stroke="#111" stroke-width="1.5"/>
<line x1="287" y1="366" x2="309.2" y2="366" stroke="#111" stroke-width="2.4"/>
<line x1="287" y1="374.7" x2="309.2" y2="374.7" stroke="#111" stroke-width="1.5"/>
<line x1="287" y1="383.2" x2="309.2" y2="383.2" stroke="#111" stroke-width="1.5"/>
<line x1="287" y1="391.8" x2="309.2" y2="391.8" stroke="#111" stroke-width="2.4"/>
<line x1="287" y1="400.4" x2="309.2" y2="400.4" stroke="#111" stroke-width="1.5"/>
<line x1="287" y1="409" x2="309.2" y2="409" stroke="#111" stroke-width="1.5"/>
<line x1="287" y1="417" x2="309.2" y2="417" stroke="#111" stroke-width="2.4"/>
<line x1="287" y1="425" x2="309.2" y2="425" stroke="#111" stroke-width="1.5"/>
<line x1="296" y1="349" x2="298" y2="349" stroke="#fff" stroke-width="0.8"/>
<line x1="299.5" y1="349" x2="300.5" y2="349" stroke="#fff" stroke-width="0.8"/>
<line x1="296" y1="366" x2="298" y2="366" stroke="#fff" stroke-width="0.8"/>
<line x1="299.5" y1="366" x2="300.5" y2="366" stroke="#fff" stroke-width="0.8"/>
<line x1="296" y1="391.8" x2="298" y2="391.8" stroke="#fff" stroke-width="0.8"/>
<line x1="299.5" y1="391.8" x2="300.5" y2="391.8" stroke="#fff" stroke-width="0.8"/>
<line x1="296" y1="417" x2="298" y2="417" stroke="#fff" stroke-width="0.8"/>
<line x1="299.5" y1="417" x2="300.5" y2="417" stroke="#fff" stroke-width="0.8"/>
<line x1="309.2" y1="340.5" x2="403" y2="340.5" stroke="#111" stroke-width="1"/>
<line x1="103.3" y1="361.5" x2="432.5" y2="361.5" stroke="#111" stroke-width="1"/>
<rect x="179.5" y="361.5" width="72" height="50" fill="none" stroke="#111" stroke-width="1"/>
<line x1="179.5" y1="411" x2="251.5" y2="411" stroke="#111" stroke-width="2"/>
<line x1="181.5" y1="364" x2="181.5" y2="407" stroke="#555" stroke-width="1"/>
<line x1="249.5" y1="364" x2="249.5" y2="407" stroke="#555" stroke-width="1"/>
<line x1="179.5" y1="407" x2="251.8" y2="407" stroke="#111" stroke-width="2"/>
<rect x="181.5" y="362.5" width="2" height="3" fill="#000" stroke="#111" stroke-width="1"/>
<rect x="246.5" y="362.5" width="2" height="3" fill="#000" stroke="#111" stroke-width="1"/>
<line x1="182.5" y1="365" x2="182.5" y2="372" stroke="#111" stroke-width="1"/>
<line x1="247.5" y1="365" x2="247.5" y2="372" stroke="#111" stroke-width="1"/>
<circle cx="182.2" cy="373" r="0.9" fill="#000" stroke="#111" stroke-width="0.3"/>
<circle cx="247.8" cy="373" r="0.9" fill="#000" stroke="#111" stroke-width="0.3"/>
<circle cx="206" cy="373" r="0.9" fill="#000" stroke="#111" stroke-width="0.3"/>
<line x1="206.5" y1="366" x2="206.5" y2="372" stroke="#111" stroke-width="1"/>
<line x1="184" y1="366.5" x2="246" y2="366.5" stroke="#111" stroke-width="1"/>
<line x1="205.5" y1="366.5" x2="205.5" y2="385" stroke="#111" stroke-width="1"/>
<line x1="227.5" y1="366.5" x2="227.5" y2="404" stroke="#111" stroke-width="1"/>
<rect x="183.5" y="377.5" width="7" height="26" fill="#000" stroke="#111" stroke-width="1"/>
<line x1="185.5" y1="378" x2="185.5" y2="403" stroke="#fff" stroke-width="1"/>
<line x1="187.5" y1="378" x2="187.5" y2="403" stroke="#fff" stroke-width="1"/>
<line x1="183.5" y1="384.5" x2="190.5" y2="384.5" stroke="#fff" stroke-width="1"/>
<line x1="183.5" y1="391.5" x2="190.5" y2="391.5" stroke="#fff" stroke-width="1"/>
<line x1="183.5" y1="398.5" x2="190.5" y2="398.5" stroke="#fff" stroke-width="1"/>
<rect x="191.5" y="380.5" width="6" height="23" fill="#000" stroke="#111" stroke-width="1"/>
<rect x="198.5" y="383.5" width="14" height="20" fill="#000" stroke="#111" stroke-width="1"/>
<rect x="205.5" y="380.5" width="8" height="4" fill="#000" stroke="#111" stroke-width="1"/>
<rect x="212.5" y="386.5" width="9" height="17" fill="#000" stroke="#111" stroke-width="1"/>
<rect x="195.5" y="402.5" width="26" height="2" fill="#000" stroke="#111" stroke-width="1"/>
<line x1="200" y1="388.5" x2="210" y2="388.5" stroke="#fff" stroke-width="1"/>
<line x1="199" y1="393.5" x2="212" y2="393.5" stroke="#fff" stroke-width="1"/>
<line x1="203.5" y1="384" x2="203.5" y2="400" stroke="#fff" stroke-width="1"/>
<line x1="214" y1="390.5" x2="220" y2="390.5" stroke="#fff" stroke-width="1"/>
<line x1="216.5" y1="387" x2="216.5" y2="402" stroke="#fff" stroke-width="1"/>
<rect x="221.5" y="380.5" width="4" height="3" fill="none" stroke="#111" stroke-width="1"/>
<line x1="222" y1="381.5" x2="224.5" y2="381.5" stroke="#111" stroke-width="1"/>
<rect x="231.5" y="368.6" width="13.5" height="20" fill="none" stroke="#111" stroke-width="1.5" rx="2.5"/>
<clipPath id="hc"><rect x="232.3" y="369.8" width="11.4" height="17.4" rx="2"/></clipPath>
<g clip-path="url(#hc)" stroke="#111" stroke-width="0.9"><line x1="211" y1="388" x2="225" y2="368"/><line x1="215" y1="388" x2="229" y2="368"/><line x1="219" y1="388" x2="233" y2="368"/><line x1="223" y1="388" x2="237" y2="368"/><line x1="227" y1="388" x2="241" y2="368"/><line x1="231" y1="388" x2="245" y2="368"/><line x1="235" y1="388" x2="249" y2="368"/><line x1="239" y1="388" x2="253" y2="368"/><line x1="243" y1="388" x2="257" y2="368"/></g>
<rect x="227.5" y="386.5" width="22" height="17" fill="none" stroke="#111" stroke-width="1"/>
<line x1="227" y1="394.5" x2="249" y2="394.5" stroke="#111" stroke-width="1"/>
<line x1="236" y1="386" x2="232" y2="403" stroke="#111" stroke-width="1"/>
<line x1="240.5" y1="386" x2="240.5" y2="403" stroke="#111" stroke-width="1"/>
<rect x="245.5" y="393.5" width="3" height="8" fill="#000" stroke="#111" stroke-width="1"/>
<line x1="187.5" y1="407.5" x2="187.5" y2="411" stroke="#111" stroke-width="1"/>
<line x1="194.5" y1="407.5" x2="194.5" y2="411" stroke="#111" stroke-width="1"/>
<line x1="226.5" y1="407.5" x2="226.5" y2="411" stroke="#111" stroke-width="1"/>
<line x1="238.5" y1="407.5" x2="238.5" y2="411" stroke="#111" stroke-width="1"/>
<path d="M251.8 364.5 L268 364.5 Q269.5 364.5 269.5 366 L269.5 386 L256 395.5 L251.8 395.5" fill="none" stroke="#111" stroke-width="1"/>
<line x1="251.8" y1="381.5" x2="269.5" y2="381.5" stroke="#444" stroke-width="1"/>
<line x1="269.8" y1="365" x2="269.8" y2="386" stroke="#111" stroke-width="1.5"/>
<rect x="253.6" y="395" width="16.4" height="15.6" fill="none" stroke="#111" stroke-width="1.5"/>
<line x1="255.5" y1="397" x2="268.5" y2="409" stroke="#111" stroke-width="1.3"/>
<line x1="268.5" y1="397" x2="255.5" y2="409" stroke="#111" stroke-width="1.3"/>
<line x1="262.5" y1="390" x2="262.5" y2="410" stroke="#111" stroke-width="1"/>
<line x1="259" y1="392.5" x2="265" y2="392.5" stroke="#111" stroke-width="1"/>
<circle cx="262" cy="391" r="1" fill="#000" stroke="#111" stroke-width="0.3"/>
<line x1="236" y1="390" x2="203.3" y2="495" stroke="#111" stroke-width="1"/>
<line x1="197" y1="495.5" x2="205.5" y2="495.5" stroke="#111" stroke-width="1"/>
<rect x="105.5" y="362.5" width="18" height="2" fill="none" stroke="#111" stroke-width="1"/>
<rect x="106" y="365" width="18" height="6" fill="none" stroke="#111" stroke-width="2"/>
<line x1="105.5" y1="368.5" x2="123.5" y2="368.5" stroke="#111" stroke-width="1"/>
<rect x="108" y="371" width="14" height="3" fill="none" stroke="#111" stroke-width="2"/>
<circle cx="114.5" cy="402.5" r="26.4" fill="none" stroke="#111" stroke-width="4.8"/>
<circle cx="114.5" cy="402.5" r="26.4" fill="none" stroke="#fff" stroke-width="2.2" stroke-dasharray="0.8 2.5"/>
<circle cx="114.5" cy="402.5" r="19.5" fill="none" stroke="#111" stroke-width="0.9"/>
<circle cx="114.5" cy="402.5" r="7.5" fill="none" stroke="#111" stroke-width="11"/>
<circle cx="114.5" cy="402.5" r="11" fill="none" stroke="#fff" stroke-width="1" stroke-dasharray="0.8 2.4"/>
<circle cx="114.5" cy="402.5" r="8.2" fill="none" stroke="#fff" stroke-width="0.8" stroke-dasharray="2.2 2.4"/>
<circle cx="114.5" cy="402.5" r="5.2" fill="none" stroke="#fff" stroke-width="0.8" stroke-dasharray="1.4 2.2"/>
<path d="M113.7 400.2 L114.5 400.2 A2.3 2.3 0 0 1 114.5 404.8 ZL113.7 404.8" fill="none" stroke="#fff" stroke-width="0.8"/>
<rect x="108.5" y="384.5" width="12" height="8" fill="#fff" stroke="#111" stroke-width="1"/>
<rect x="108.5" y="374.5" width="12" height="18" fill="none" stroke="#111" stroke-width="1"/>
<line x1="111.5" y1="374.5" x2="111.5" y2="384" stroke="#555" stroke-width="1"/>
<line x1="117.5" y1="374.5" x2="117.5" y2="384" stroke="#555" stroke-width="1"/>
<rect x="128" y="384" width="8" height="24" fill="#fff" stroke="#111" stroke-width="2"/>
<line x1="131" y1="385" x2="131" y2="407" stroke="#111" stroke-width="2"/>
<line x1="133.5" y1="385" x2="133.5" y2="407" stroke="#111" stroke-width="1"/>
<rect x="136" y="388" width="4" height="6" fill="none" stroke="#111" stroke-width="2"/>
<rect x="140.5" y="386.5" width="16" height="10" fill="#fff" stroke="#111" stroke-width="1" rx="2"/>
<rect x="141.5" y="387.5" width="7" height="7" fill="none" stroke="#111" stroke-width="1"/>
<line x1="145.5" y1="387.8" x2="145.5" y2="394.3" stroke="#111" stroke-width="1"/>
<line x1="144" y1="384.5" x2="144" y2="386.2" stroke="#111" stroke-width="2"/>
<line x1="80" y1="402.5" x2="148.5" y2="402.5" stroke="#555" stroke-width="1"/>
<rect x="411.5" y="362.5" width="19" height="2" fill="none" stroke="#111" stroke-width="1"/>
<rect x="412" y="365" width="18" height="6" fill="none" stroke="#111" stroke-width="2"/>
<line x1="411.8" y1="368.5" x2="429.8" y2="368.5" stroke="#111" stroke-width="1"/>
<rect x="414" y="371" width="14" height="3" fill="none" stroke="#111" stroke-width="2"/>
<circle cx="420.8" cy="402.5" r="26.4" fill="none" stroke="#111" stroke-width="4.8"/>
<circle cx="420.8" cy="402.5" r="26.4" fill="none" stroke="#fff" stroke-width="2.2" stroke-dasharray="0.8 2.5"/>
<circle cx="420.8" cy="402.5" r="19.5" fill="none" stroke="#111" stroke-width="0.9"/>
<circle cx="420.8" cy="402.5" r="7.5" fill="none" stroke="#111" stroke-width="11"/>
<circle cx="420.8" cy="402.5" r="11" fill="none" stroke="#fff" stroke-width="1" stroke-dasharray="0.8 2.4"/>
<circle cx="420.8" cy="402.5" r="8.2" fill="none" stroke="#fff" stroke-width="0.8" stroke-dasharray="2.2 2.4"/>
<circle cx="420.8" cy="402.5" r="5.2" fill="none" stroke="#fff" stroke-width="0.8" stroke-dasharray="1.4 2.2"/>
<path d="M420 400.2 L420.8 400.2 A2.3 2.3 0 0 1 420.8 404.8 ZL420 404.8" fill="none" stroke="#fff" stroke-width="0.8"/>
<rect x="414.5" y="384.5" width="12" height="8" fill="#fff" stroke="#111" stroke-width="1"/>
<rect x="414.5" y="374.5" width="12" height="18" fill="none" stroke="#111" stroke-width="1"/>
<line x1="417.5" y1="374.5" x2="417.5" y2="384" stroke="#555" stroke-width="1"/>
<line x1="423.5" y1="374.5" x2="423.5" y2="384" stroke="#555" stroke-width="1"/>
<rect x="399" y="384" width="8" height="24" fill="#fff" stroke="#111" stroke-width="2"/>
<line x1="404" y1="385" x2="404" y2="407" stroke="#111" stroke-width="2"/>
<line x1="401.5" y1="385" x2="401.5" y2="407" stroke="#111" stroke-width="1"/>
<rect x="395" y="388" width="4" height="6" fill="none" stroke="#111" stroke-width="2"/>
<rect x="379.5" y="386.5" width="15" height="10" fill="#fff" stroke="#111" stroke-width="1" rx="2"/>
<rect x="386.5" y="387.5" width="7" height="7" fill="none" stroke="#111" stroke-width="1"/>
<line x1="390.5" y1="387.8" x2="390.5" y2="394.3" stroke="#111" stroke-width="1"/>
<line x1="392" y1="384.5" x2="392" y2="386.2" stroke="#111" stroke-width="2"/>
<line x1="386.3" y1="402.5" x2="454.8" y2="402.5" stroke="#555" stroke-width="1"/>
<line x1="114.5" y1="372" x2="114.5" y2="457.5" stroke="#111" stroke-width="1"/>
<line x1="420.5" y1="372" x2="420.5" y2="457.5" stroke="#111" stroke-width="1"/>
<line x1="62.5" y1="430.5" x2="474" y2="430.5" stroke="#444" stroke-width="1" stroke-dasharray="26 3 5 3"/>
<line x1="57.2" y1="457.5" x2="114.5" y2="457.5" stroke="#111" stroke-width="1"/>
<path d="M57.2 457.5 L60.4 456.4 L60.4 458.6 Z" fill="#000" stroke="#111" stroke-width="0.2"/>
<path d="M114.5 457.5 L111.3 456.4 L111.3 458.6 Z" fill="#000" stroke="#111" stroke-width="0.2"/>
<line x1="114.5" y1="457.5" x2="420.8" y2="457.5" stroke="#111" stroke-width="1"/>
<path d="M114.5 457.5 L117.7 456.4 L117.7 458.6 Z" fill="#000" stroke="#111" stroke-width="0.2"/>
<path d="M420.8 457.5 L417.6 456.4 L417.6 458.6 Z" fill="#000" stroke="#111" stroke-width="0.2"/>
<line x1="477.3" y1="348.5" x2="487" y2="348.5" stroke="#111" stroke-width="1"/>
<line x1="477.3" y1="348.5" x2="441" y2="380" stroke="#111" stroke-width="1"/>
<line x1="477.3" y1="231.5" x2="487" y2="231.5" stroke="#111" stroke-width="1"/>
<line x1="477.3" y1="231.5" x2="414" y2="284.5" stroke="#111" stroke-width="1"/>
<line x1="477.3" y1="117.5" x2="487" y2="117.5" stroke="#111" stroke-width="1"/>
<line x1="477.3" y1="117.5" x2="381" y2="160" stroke="#111" stroke-width="1"/>
<g id="rh">
<path d="M582.5 517.5h.01M581.5 523.5h.01M592.5 464.5h.01M591.5 466.5h.01M606.5 447.5h.01M571.5 471.5h.01M601.5 518.5h.01M614.5 535.5h.01M597.5 508.5h.01M562.5 460.5h.01M551.5 439.5h.01M622.5 455.5h.01M573.5 441.5h.01M615.5 476.5h.01M608.5 492.5h.01M583.5 519.5h.01M615.5 483.5h.01M583.5 432.5h.01M546.5 439.5h.01M568.5 454.5h.01M616.5 516.5h.01M598.5 463.5h.01M606.5 475.5h.01M588.5 461.5h.01M567.5 476.5h.01M591.5 453.5h.01M586.5 469.5h.01M589.5 491.5h.01M585.5 464.5h.01M625.5 474.5h.01M611.5 508.5h.01" stroke="#222" stroke-width="1" stroke-linecap="square" fill="none"/>
<path d="M601.5 457.5h.01M619.5 455.5h.01M595.5 462.5h.01M609.5 467.5h.01M617.5 485.5h.01M591.5 443.5h.01M604.5 522.5h.01M582.5 530.5h.01M589.5 465.5h.01M562.5 460.5h.01M562.5 453.5h.01M611.5 462.5h.01M566.5 472.5h.01M616.5 496.5h.01M607.5 534.5h.01M603.5 454.5h.01M612.5 492.5h.01M595.5 455.5h.01M611.5 524.5h.01M622.5 455.5h.01M579.5 510.5h.01M585.5 525.5h.01M605.5 534.5h.01M570.5 492.5h.01M604.5 459.5h.01M609.5 511.5h.01M553.5 454.5h.01M558.5 450.5h.01M626.5 479.5h.01M614.5 517.5h.01M592.5 540.5h.01M584.5 478.5h.01M609.5 434.5h.01M576.5 489.5h.01M576.5 470.5h.01M590.5 524.5h.01M565.5 477.5h.01M592.5 444.5h.01M596.5 546.5h.01M627.5 482.5h.01M597.5 434.5h.01M608.5 499.5h.01M617.5 502.5h.01M586.5 517.5h.01M594.5 442.5h.01M592.5 475.5h.01M611.5 434.5h.01M619.5 435.5h.01M579.5 471.5h.01M597.5 519.5h.01M584.5 479.5h.01M578.5 462.5h.01M560.5 434.5h.01M612.5 432.5h.01M604.5 463.5h.01M554.5 447.5h.01M586.5 497.5h.01M552.5 442.5h.01M600.5 482.5h.01M614.5 508.5h.01M601.5 491.5h.01M598.5 482.5h.01M578.5 527.5h.01M576.5 447.5h.01M609.5 444.5h.01M616.5 506.5h.01M577.5 471.5h.01M580.5 500.5h.01M580.5 475.5h.01M564.5 467.5h.01M604.5 518.5h.01M610.5 458.5h.01M603.5 489.5h.01M616.5 483.5h.01M546.5 449.5h.01M618.5 481.5h.01M620.5 483.5h.01M596.5 503.5h.01M594.5 494.5h.01M625.5 473.5h.01M595.5 484.5h.01M596.5 490.5h.01M590.5 447.5h.01M607.5 499.5h.01M585.5 520.5h.01M562.5 434.5h.01M591.5 445.5h.01M610.5 518.5h.01M568.5 457.5h.01M604.5 535.5h.01M602.5 509.5h.01M592.5 488.5h.01M587.5 456.5h.01M579.5 448.5h.01M616.5 477.5h.01M586.5 495.5h.01M594.5 475.5h.01" stroke="#777" stroke-width="1" stroke-linecap="square" fill="none"/>
<path d="M593.5 513.5h.01M612.5 516.5h.01M601.5 437.5h.01M537.5 436.5h.01M581.5 474.5h.01M577.5 461.5h.01M576.5 515.5h.01M603.5 537.5h.01M560.5 451.5h.01M611.5 533.5h.01M589.5 538.5h.01M620.5 479.5h.01M602.5 520.5h.01M561.5 434.5h.01M625.5 467.5h.01M619.5 486.5h.01M602.5 468.5h.01M586.5 443.5h.01M598.5 445.5h.01M571.5 441.5h.01M609.5 457.5h.01M585.5 448.5h.01M609.5 481.5h.01M580.5 451.5h.01M620.5 455.5h.01M601.5 520.5h.01M600.5 463.5h.01M622.5 437.5h.01M574.5 507.5h.01M576.5 454.5h.01M571.5 472.5h.01M567.5 449.5h.01M572.5 466.5h.01M595.5 518.5h.01M614.5 525.5h.01M597.5 471.5h.01M619.5 472.5h.01M611.5 450.5h.01M602.5 516.5h.01M622.5 441.5h.01M572.5 453.5h.01M617.5 520.5h.01M553.5 458.5h.01M603.5 438.5h.01M615.5 539.5h.01M609.5 480.5h.01M608.5 524.5h.01M577.5 463.5h.01M605.5 448.5h.01M586.5 538.5h.01M601.5 456.5h.01M586.5 527.5h.01M576.5 445.5h.01M575.5 516.5h.01M546.5 447.5h.01M622.5 487.5h.01M606.5 506.5h.01M584.5 521.5h.01M592.5 497.5h.01M597.5 474.5h.01M592.5 495.5h.01M596.5 473.5h.01M534.5 432.5h.01M596.5 512.5h.01M626.5 468.5h.01M580.5 469.5h.01M594.5 450.5h.01M584.5 473.5h.01M609.5 450.5h.01M571.5 459.5h.01M567.5 470.5h.01M613.5 484.5h.01M561.5 441.5h.01M571.5 467.5h.01M591.5 437.5h.01M562.5 443.5h.01M596.5 482.5h.01M562.5 462.5h.01M577.5 454.5h.01M599.5 499.5h.01M601.5 472.5h.01M616.5 500.5h.01M593.5 543.5h.01M579.5 480.5h.01M599.5 523.5h.01M611.5 488.5h.01M594.5 511.5h.01M564.5 434.5h.01M581.5 510.5h.01M600.5 537.5h.01M620.5 458.5h.01M570.5 474.5h.01M566.5 435.5h.01M610.5 463.5h.01M607.5 531.5h.01M604.5 483.5h.01M579.5 465.5h.01M578.5 475.5h.01M564.5 470.5h.01M548.5 451.5h.01M598.5 461.5h.01M597.5 495.5h.01M590.5 434.5h.01M581.5 432.5h.01M598.5 494.5h.01M557.5 464.5h.01M628.5 483.5h.01M584.5 503.5h.01M574.5 454.5h.01M612.5 460.5h.01M625.5 474.5h.01M579.5 434.5h.01M581.5 449.5h.01M576.5 491.5h.01M584.5 502.5h.01M608.5 511.5h.01M582.5 483.5h.01M613.5 432.5h.01M548.5 435.5h.01M607.5 467.5h.01M598.5 449.5h.01M602.5 443.5h.01" stroke="#bbb" stroke-width="1" stroke-linecap="square" fill="none"/>
<path d="M528.6 430.8 L559.3 471 Q563.5 477 565 483 L567.5 493.5" fill="none" stroke="#111" stroke-width="1"/>
<line x1="532" y1="434.5" x2="569.5" y2="434.5" stroke="#555" stroke-width="1"/>
<line x1="618.75" y1="534.5" x2="625" y2="534.5" stroke="#111" stroke-width="1"/>
<path d="M567.5 493.5 Q569 502 571 509 Q573 517.5 576 525 Q579 533 582.5 539 Q587 544.5 592.5 546.5 Q598 549 604 549 L625 549" fill="none" stroke="#111" stroke-width="0.9"/>
<path d="M569.5 431 L569.5 461.3 L559.6 471" fill="none" stroke="#111" stroke-width="1"/>
<line x1="567.5" y1="493.5" x2="618.75" y2="493.5" stroke="#111" stroke-width="1"/>
<path d="M630 489 L618.75 489 L618.75 549" fill="none" stroke="#111" stroke-width="0.9"/>
<path d="M630 521.5 L629.3 523 L625 527.8 L625 549" fill="none" stroke="#111" stroke-width="0.9"/>
<line x1="618.75" y1="527.5" x2="625" y2="527.5" stroke="#111" stroke-width="1"/>
<line x1="585" y1="542.5" x2="618.75" y2="542.5" stroke="#111" stroke-width="1"/>
<path d="M623.75 431 L623.75 461.6 L630 461.6" fill="none" stroke="#111" stroke-width="0.9"/>
<path d="M624.5 431 L624.5 426 Q624.5 424.5 626 424.5 L628 424.5 L629.5 431" fill="none" stroke="#111" stroke-width="0.7"/>
<line x1="594.5" y1="431" x2="594.5" y2="486" stroke="#111" stroke-width="1"/>
<line x1="594.4" y1="486.5" x2="630" y2="486.5" stroke="#111" stroke-width="1"/>
<rect x="630" y="436.5" width="5.7" height="20.5" fill="none" stroke="#111" stroke-width="0.9"/>
<path d="M630 436.5 L635.7 439.92 L630 443.33 L635.7 446.75 L630 450.17 L635.7 453.58 L630 457" fill="none" stroke="#111" stroke-width="0.9"/>
<path d="M635.7 436.5 L630 439.92 L635.7 443.33 L630 446.75 L635.7 450.17 L630 453.58 L635.7 457" fill="none" stroke="#111" stroke-width="0.9"/>
<rect x="630" y="458.5" width="5.7" height="30.5" fill="none" stroke="#111" stroke-width="0.9"/>
<path d="M630 458.5 L635.7 461.89 L630 465.28 L635.7 468.67 L630 472.06 L635.7 475.44 L630 478.83 L635.7 482.22 L630 485.61 L635.7 489" fill="none" stroke="#111" stroke-width="0.9"/>
<path d="M635.7 458.5 L630 461.89 L635.7 465.28 L630 468.67 L635.7 472.06 L630 475.44 L635.7 478.83 L630 482.22 L635.7 485.61 L630 489" fill="none" stroke="#111" stroke-width="0.9"/>
<rect x="630" y="491.5" width="5.7" height="30" fill="none" stroke="#111" stroke-width="0.9"/>
<path d="M630 491.5 L635.7 494.83 L630 498.17 L635.7 501.5 L630 504.83 L635.7 508.17 L630 511.5 L635.7 514.83 L630 518.17 L635.7 521.5" fill="none" stroke="#111" stroke-width="0.9"/>
<path d="M635.7 491.5 L630 494.83 L635.7 498.17 L630 501.5 L635.7 504.83 L630 508.17 L635.7 511.5 L630 514.83 L635.7 518.17 L630 521.5" fill="none" stroke="#111" stroke-width="0.9"/>
<line x1="528" y1="430.5" x2="556" y2="430.5" stroke="#111" stroke-width="1"/>
<line x1="562" y1="430.5" x2="585" y2="430.5" stroke="#111" stroke-width="1" stroke-dasharray="3 2 8 2"/>
<line x1="598" y1="430.5" x2="630" y2="430.5" stroke="#111" stroke-width="1"/>
<line x1="575.4" y1="58" x2="764.45" y2="58" stroke="#111" stroke-width="2"/>
<line x1="575.4" y1="91.5" x2="764.45" y2="91.5" stroke="#111" stroke-width="1"/>
<line x1="578" y1="74.5" x2="764.45" y2="74.5" stroke="#999" stroke-width="1" stroke-dasharray="14 2 3 2"/>
<line x1="576.5" y1="58" x2="576.5" y2="92" stroke="#111" stroke-width="1"/>
<line x1="585" y1="58.5" x2="585" y2="92" stroke="#111" stroke-width="2" stroke-dasharray="3.5 1.5"/>
<line x1="612" y1="58.5" x2="612" y2="92" stroke="#111" stroke-width="2" stroke-dasharray="3.5 1.5"/>
<line x1="614.5" y1="58.5" x2="614.5" y2="92" stroke="#111" stroke-width="1" stroke-dasharray="3.5 1.5"/>
<line x1="584.6" y1="84.5" x2="612" y2="84.5" stroke="#111" stroke-width="1" stroke-dasharray="4 1.5"/>
<line x1="619" y1="56.3" x2="619" y2="93.5" stroke="#111" stroke-width="2"/>
<line x1="614.6" y1="65.5" x2="618.9" y2="65.5" stroke="#111" stroke-width="1"/>
<line x1="614.6" y1="81.5" x2="618.9" y2="81.5" stroke="#111" stroke-width="1"/>
<line x1="616.5" y1="65.5" x2="616.5" y2="81.4" stroke="#111" stroke-width="1"/>
<rect x="574" y="92.8" width="41" height="4.2" fill="#000" stroke="#111" stroke-width="0.2"/>
<line x1="575.5" y1="94.2" x2="614" y2="94.2" stroke="#fff" stroke-width="1" stroke-dasharray="1.3 1.4"/>
<rect x="581.5" y="43.5" width="12" height="5" fill="none" stroke="#111" stroke-width="1"/>
<line x1="584.5" y1="43" x2="584.5" y2="48.4" stroke="#111" stroke-width="1"/>
<line x1="588.5" y1="43" x2="588.5" y2="48.4" stroke="#111" stroke-width="1"/>
<line x1="581" y1="45.5" x2="593.8" y2="45.5" stroke="#111" stroke-width="1"/>
<rect x="594" y="40" width="11" height="12" fill="none" stroke="#111" stroke-width="2"/>
<line x1="597.5" y1="40.4" x2="597.5" y2="52" stroke="#111" stroke-width="1"/>
<line x1="601.5" y1="40.4" x2="601.5" y2="52" stroke="#111" stroke-width="1"/>
<line x1="593.8" y1="44.5" x2="605.4" y2="44.5" stroke="#111" stroke-width="1"/>
<rect x="593.5" y="39.5" width="4" height="3" fill="#000" stroke="#111" stroke-width="1"/>
<ellipse cx="607.5" cy="44.5" rx="1.8" ry="4.6" fill="#000"/>
<rect x="592.5" y="52.5" width="13" height="6" fill="none" stroke="#111" stroke-width="1"/>
<rect x="608.5" y="53.5" width="6" height="5" fill="#000" stroke="#111" stroke-width="1"/>
<line x1="611.5" y1="48" x2="611.5" y2="53" stroke="#111" stroke-width="1"/>
<path d="M611.8 47.8 L619 47.8 L631.5 58.5" fill="none" stroke="#111" stroke-width="0.8"/>
<line x1="576.3" y1="97" x2="583" y2="340" stroke="#111" stroke-width="1.3" stroke-dasharray="9 0.6 1.4 0.6"/>
<line x1="612.3" y1="97" x2="605.4" y2="340" stroke="#111" stroke-width="1.3" stroke-dasharray="9 0.6 1.4 0.6"/>
<line x1="594.5" y1="24" x2="594.5" y2="58" stroke="#111" stroke-width="1"/>
<line x1="594.5" y1="58" x2="594.5" y2="431" stroke="#111" stroke-width="1" stroke-dasharray="10 1.5 2 1.5"/>
<g transform="rotate(-7 631 74)">
<rect x="625.5" y="61.5" width="11" height="26" fill="#000" stroke="#111" stroke-width="1" rx="2"/>
<circle cx="631" cy="62.2" r="2.3" fill="#fff" stroke="#111" stroke-width="0.8"/>
<circle cx="631" cy="62.2" r="0.8" fill="#000" stroke="#111" stroke-width="0.3"/>
<line x1="628" y1="67.5" x2="634" y2="67.5" stroke="#fff" stroke-width="1"/>
<line x1="628" y1="71.5" x2="634" y2="71.5" stroke="#fff" stroke-width="1"/>
<line x1="629" y1="75.5" x2="633" y2="75.5" stroke="#fff" stroke-width="1"/>
<line x1="628" y1="80.5" x2="634" y2="80.5" stroke="#fff" stroke-width="1"/>
<line x1="631.5" y1="66" x2="631.5" y2="84" stroke="#fff" stroke-width="1"/>
</g>
<line x1="621" y1="62" x2="623.5" y2="86" stroke="#111" stroke-width="1.2" stroke-dasharray="4 2"/>
<line x1="627.3" y1="87" x2="636.5" y2="163" stroke="#111" stroke-width="1"/>
<line x1="630.1" y1="87" x2="639.3" y2="163" stroke="#111" stroke-width="1"/>
<line x1="632.9" y1="87" x2="642.1" y2="163" stroke="#111" stroke-width="1"/>
<line x1="635.7" y1="87" x2="644.9" y2="163" stroke="#111" stroke-width="1"/>
<g transform="rotate(-7 642 175)">
<rect x="637.5" y="163.5" width="9" height="5" fill="#000" stroke="#111" stroke-width="1"/>
<rect x="638.5" y="168.5" width="8" height="4" fill="#000" stroke="#111" stroke-width="1"/>
<rect x="636.5" y="171.5" width="11" height="9" fill="#000" stroke="#111" stroke-width="1" rx="1.5"/>
<rect x="638.5" y="180.5" width="7" height="7" fill="#000" stroke="#111" stroke-width="1" rx="1.5"/>
<line x1="640" y1="165" x2="640" y2="186" stroke="#aaa" stroke-width="0.4"/>
<line x1="644" y1="165" x2="644" y2="186" stroke="#aaa" stroke-width="0.4"/>
<line x1="638" y1="170.5" x2="646" y2="170.5" stroke="#fff" stroke-width="1"/>
<line x1="638" y1="176.5" x2="646" y2="176.5" stroke="#fff" stroke-width="1"/>
</g>
<path d="M643.7 187.5 L664.5 337.5 C669 375 710 418 764.45 418" fill="none" stroke="#111" stroke-width="0.8"/>
<rect x="561.5" y="302.5" width="20" height="40" fill="none" stroke="#111" stroke-width="1"/>
<line x1="562.5" y1="302" x2="562.5" y2="342.5" stroke="#111" stroke-width="1"/>
<line x1="561.2" y1="314" x2="581.2" y2="314" stroke="#111" stroke-width="2"/>
<line x1="605" y1="314" x2="614.6" y2="314" stroke="#111" stroke-width="2"/>
<line x1="561.2" y1="326" x2="581.2" y2="326" stroke="#111" stroke-width="2"/>
<line x1="605" y1="326" x2="614.6" y2="326" stroke="#111" stroke-width="2"/>
<line x1="561.2" y1="336.5" x2="581.2" y2="336.5" stroke="#111" stroke-width="1"/>
<line x1="605" y1="336.5" x2="614.6" y2="336.5" stroke="#111" stroke-width="1"/>
<line x1="561.2" y1="339.5" x2="581.2" y2="339.5" stroke="#111" stroke-width="1"/>
<line x1="605" y1="339.5" x2="614.6" y2="339.5" stroke="#111" stroke-width="1"/>
<rect x="605.5" y="302.5" width="9" height="40" fill="none" stroke="#111" stroke-width="1"/>
<line x1="580" y1="302" x2="580" y2="430" stroke="#111" stroke-width="2"/>
<line x1="583.5" y1="302" x2="583.5" y2="342" stroke="#111" stroke-width="1"/>
<line x1="571" y1="314.5" x2="574" y2="314.5" stroke="#fff" stroke-width="1"/>
<line x1="582.6" y1="340" x2="605.8" y2="340" stroke="#111" stroke-width="2"/>
<circle cx="584" cy="340" r="1.2" fill="#000" stroke="#111" stroke-width="0.3"/>
<circle cx="587.4" cy="340" r="1.2" fill="#000" stroke="#111" stroke-width="0.3"/>
<circle cx="590.8" cy="340" r="1.2" fill="#000" stroke="#111" stroke-width="0.3"/>
<circle cx="594.2" cy="340" r="1.2" fill="#000" stroke="#111" stroke-width="0.3"/>
<circle cx="597.6" cy="340" r="1.2" fill="#000" stroke="#111" stroke-width="0.3"/>
<circle cx="601" cy="340" r="1.2" fill="#000" stroke="#111" stroke-width="0.3"/>
<circle cx="604.4" cy="340" r="1.2" fill="#000" stroke="#111" stroke-width="0.3"/>
<line x1="585.5" y1="340" x2="585.5" y2="362.5" stroke="#111" stroke-width="1"/>
<line x1="603.5" y1="340" x2="603.5" y2="362.5" stroke="#111" stroke-width="1"/>
<rect x="585.5" y="362.5" width="18" height="3" fill="none" stroke="#111" stroke-width="1"/>
<rect x="584" y="365" width="21" height="5" fill="none" stroke="#111" stroke-width="2"/>
<line x1="584.2" y1="367.5" x2="604.6" y2="367.5" stroke="#111" stroke-width="1"/>
<rect x="586.5" y="370.5" width="16" height="6" fill="none" stroke="#111" stroke-width="1"/>
<rect x="584.5" y="376.5" width="19" height="35" fill="none" stroke="#111" stroke-width="1"/>
<line x1="584.6" y1="393.5" x2="603.8" y2="393.5" stroke="#111" stroke-width="1"/>
<rect x="586.5" y="394.5" width="16" height="15" fill="none" stroke="#111" stroke-width="1"/>
<circle cx="594.4" cy="402.5" r="6.2" fill="#000" stroke="#111" stroke-width="1.2"/>
<circle cx="594.4" cy="402.5" r="5" fill="none" stroke="#666" stroke-width="0.5" stroke-dasharray="1 1.5"/>
<rect x="565.5" y="374.5" width="17" height="56" fill="none" stroke="#111" stroke-width="1" rx="4.5"/>
<path d="M564.7 376.2 Q568.87 380.8 572.3 377.8" fill="none" stroke="#111" stroke-width="1.15"/>
<path d="M582.5 376.2 Q578.33 380.8 574.9 377.8" fill="none" stroke="#111" stroke-width="1.15"/>
<path d="M564.7 380.35 Q568.87 384.95 572.3 381.95" fill="none" stroke="#111" stroke-width="1.15"/>
<path d="M582.5 380.35 Q578.33 384.95 574.9 381.95" fill="none" stroke="#111" stroke-width="1.15"/>
<path d="M564.7 384.5 Q568.87 389.1 572.3 386.1" fill="none" stroke="#111" stroke-width="1.15"/>
<path d="M582.5 384.5 Q578.33 389.1 574.9 386.1" fill="none" stroke="#111" stroke-width="1.15"/>
<path d="M564.7 388.65 Q568.87 393.25 572.3 390.25" fill="none" stroke="#111" stroke-width="1.15"/>
<path d="M582.5 388.65 Q578.33 393.25 574.9 390.25" fill="none" stroke="#111" stroke-width="1.15"/>
<path d="M564.7 392.8 Q568.87 397.4 572.3 394.4" fill="none" stroke="#111" stroke-width="1.15"/>
<path d="M582.5 392.8 Q578.33 397.4 574.9 394.4" fill="none" stroke="#111" stroke-width="1.15"/>
<path d="M564.7 396.95 Q568.87 401.55 572.3 398.55" fill="none" stroke="#111" stroke-width="1.15"/>
<path d="M582.5 396.95 Q578.33 401.55 574.9 398.55" fill="none" stroke="#111" stroke-width="1.15"/>
<path d="M564.7 401.1 Q568.87 405.7 572.3 402.7" fill="none" stroke="#111" stroke-width="1.15"/>
<path d="M582.5 401.1 Q578.33 405.7 574.9 402.7" fill="none" stroke="#111" stroke-width="1.15"/>
<path d="M564.7 405.25 Q568.87 409.85 572.3 406.85" fill="none" stroke="#111" stroke-width="1.15"/>
<path d="M582.5 405.25 Q578.33 409.85 574.9 406.85" fill="none" stroke="#111" stroke-width="1.15"/>
<path d="M564.7 409.4 Q568.87 414 572.3 411" fill="none" stroke="#111" stroke-width="1.15"/>
<path d="M582.5 409.4 Q578.33 414 574.9 411" fill="none" stroke="#111" stroke-width="1.15"/>
<path d="M564.7 413.55 Q568.87 418.15 572.3 415.15" fill="none" stroke="#111" stroke-width="1.15"/>
<path d="M582.5 413.55 Q578.33 418.15 574.9 415.15" fill="none" stroke="#111" stroke-width="1.15"/>
<path d="M564.7 417.7 Q568.87 422.3 572.3 419.3" fill="none" stroke="#111" stroke-width="1.15"/>
<path d="M582.5 417.7 Q578.33 422.3 574.9 419.3" fill="none" stroke="#111" stroke-width="1.15"/>
<path d="M564.7 421.85 Q568.87 426.45 572.3 423.45" fill="none" stroke="#111" stroke-width="1.15"/>
<path d="M582.5 421.85 Q578.33 426.45 574.9 423.45" fill="none" stroke="#111" stroke-width="1.15"/>
<path d="M564.7 426 Q568.87 430.6 572.3 427.6" fill="none" stroke="#111" stroke-width="1.15"/>
<path d="M582.5 426 Q578.33 430.6 574.9 427.6" fill="none" stroke="#111" stroke-width="1.15"/>
<line x1="573.5" y1="368" x2="573.5" y2="436" stroke="#777" stroke-width="1" stroke-dasharray="6 1.5"/>
<rect x="606.5" y="374.5" width="17" height="56" fill="none" stroke="#111" stroke-width="1" rx="4.5"/>
<path d="M605.9 376.2 Q610.16 380.8 613.7 377.8" fill="none" stroke="#111" stroke-width="1.15"/>
<path d="M624.1 376.2 Q619.84 380.8 616.3 377.8" fill="none" stroke="#111" stroke-width="1.15"/>
<path d="M605.9 380.35 Q610.16 384.95 613.7 381.95" fill="none" stroke="#111" stroke-width="1.15"/>
<path d="M624.1 380.35 Q619.84 384.95 616.3 381.95" fill="none" stroke="#111" stroke-width="1.15"/>
<path d="M605.9 384.5 Q610.16 389.1 613.7 386.1" fill="none" stroke="#111" stroke-width="1.15"/>
<path d="M624.1 384.5 Q619.84 389.1 616.3 386.1" fill="none" stroke="#111" stroke-width="1.15"/>
<path d="M605.9 388.65 Q610.16 393.25 613.7 390.25" fill="none" stroke="#111" stroke-width="1.15"/>
<path d="M624.1 388.65 Q619.84 393.25 616.3 390.25" fill="none" stroke="#111" stroke-width="1.15"/>
<path d="M605.9 392.8 Q610.16 397.4 613.7 394.4" fill="none" stroke="#111" stroke-width="1.15"/>
<path d="M624.1 392.8 Q619.84 397.4 616.3 394.4" fill="none" stroke="#111" stroke-width="1.15"/>
<path d="M605.9 396.95 Q610.16 401.55 613.7 398.55" fill="none" stroke="#111" stroke-width="1.15"/>
<path d="M624.1 396.95 Q619.84 401.55 616.3 398.55" fill="none" stroke="#111" stroke-width="1.15"/>
<path d="M605.9 401.1 Q610.16 405.7 613.7 402.7" fill="none" stroke="#111" stroke-width="1.15"/>
<path d="M624.1 401.1 Q619.84 405.7 616.3 402.7" fill="none" stroke="#111" stroke-width="1.15"/>
<path d="M605.9 405.25 Q610.16 409.85 613.7 406.85" fill="none" stroke="#111" stroke-width="1.15"/>
<path d="M624.1 405.25 Q619.84 409.85 616.3 406.85" fill="none" stroke="#111" stroke-width="1.15"/>
<path d="M605.9 409.4 Q610.16 414 613.7 411" fill="none" stroke="#111" stroke-width="1.15"/>
<path d="M624.1 409.4 Q619.84 414 616.3 411" fill="none" stroke="#111" stroke-width="1.15"/>
<path d="M605.9 413.55 Q610.16 418.15 613.7 415.15" fill="none" stroke="#111" stroke-width="1.15"/>
<path d="M624.1 413.55 Q619.84 418.15 616.3 415.15" fill="none" stroke="#111" stroke-width="1.15"/>
<path d="M605.9 417.7 Q610.16 422.3 613.7 419.3" fill="none" stroke="#111" stroke-width="1.15"/>
<path d="M624.1 417.7 Q619.84 422.3 616.3 419.3" fill="none" stroke="#111" stroke-width="1.15"/>
<path d="M605.9 421.85 Q610.16 426.45 613.7 423.45" fill="none" stroke="#111" stroke-width="1.15"/>
<path d="M624.1 421.85 Q619.84 426.45 616.3 423.45" fill="none" stroke="#111" stroke-width="1.15"/>
<path d="M605.9 426 Q610.16 430.6 613.7 427.6" fill="none" stroke="#111" stroke-width="1.15"/>
<path d="M624.1 426 Q619.84 430.6 616.3 427.6" fill="none" stroke="#111" stroke-width="1.15"/>
<line x1="615.5" y1="368" x2="615.5" y2="436" stroke="#777" stroke-width="1" stroke-dasharray="6 1.5"/>
</g>
<use href="#rh" transform="translate(1528.9 0) scale(-1 1)"/>
<line x1="573.5" y1="8.5" x2="573.5" y2="58" stroke="#111" stroke-width="1"/>
<line x1="955.5" y1="8.5" x2="955.5" y2="96" stroke="#111" stroke-width="1"/>
<line x1="573.7" y1="10.5" x2="955.2" y2="10.5" stroke="#111" stroke-width="1"/>
<path d="M573.7 10.5 L576.9 9.4 L576.9 11.6 Z" fill="#000" stroke="#111" stroke-width="0.2"/>
<path d="M955.2 10.5 L952 9.4 L952 11.6 Z" fill="#000" stroke="#111" stroke-width="0.2"/>
<line x1="934.5" y1="24" x2="934.5" y2="40" stroke="#111" stroke-width="1"/>
<line x1="594.4" y1="26.5" x2="934.5" y2="26.5" stroke="#111" stroke-width="1"/>
<path d="M594.4 26.5 L597.6 25.4 L597.6 27.6 Z" fill="#000" stroke="#111" stroke-width="0.2"/>
<path d="M934.5 26.5 L931.3 25.4 L931.3 27.6 Z" fill="#000" stroke="#111" stroke-width="0.2"/>
<line x1="648" y1="176.5" x2="677" y2="176.5" stroke="#111" stroke-width="1"/>
<line x1="676.5" y1="176" x2="676.5" y2="517.8" stroke="#111" stroke-width="1"/>
<path d="M676.8 176 L675.7 179.2 L677.9 179.2 Z" fill="#000" stroke="#111" stroke-width="0.2"/>
<path d="M676.8 430.8 L675.7 427.6 L677.9 427.6 Z" fill="#000" stroke="#111" stroke-width="0.2"/>
<path d="M676.8 430.8 L675.7 434 L677.9 434 Z" fill="#000" stroke="#111" stroke-width="0.2"/>
<line x1="630" y1="430.5" x2="678" y2="430.5" stroke="#111" stroke-width="1"/>
<line x1="664.5" y1="337.5" x2="664.5" y2="382" stroke="#111" stroke-width="1"/>
<line x1="864.5" y1="337.5" x2="864.5" y2="382" stroke="#111" stroke-width="1"/>
<line x1="664.5" y1="381.5" x2="864.4" y2="381.5" stroke="#111" stroke-width="1"/>
<path d="M664.5 381.5 L667.7 380.4 L667.7 382.6 Z" fill="#000" stroke="#111" stroke-width="0.2"/>
<path d="M864.4 381.5 L861.2 380.4 L861.2 382.6 Z" fill="#000" stroke="#111" stroke-width="0.2"/>
<line x1="636" y1="450.5" x2="892.9" y2="450.5" stroke="#111" stroke-width="1"/>
<path d="M636 450.5 L639.2 449.4 L639.2 451.6 Z" fill="#000" stroke="#111" stroke-width="0.2"/>
<path d="M892.9 450.5 L889.7 449.4 L889.7 451.6 Z" fill="#000" stroke="#111" stroke-width="0.2"/>
<line x1="624" y1="461.5" x2="905" y2="461.5" stroke="#111" stroke-width="1"/>
<path d="M624 461.5 L627.2 460.4 L627.2 462.6 Z" fill="#000" stroke="#111" stroke-width="0.2"/>
<path d="M905 461.5 L901.8 460.4 L901.8 462.6 Z" fill="#000" stroke="#111" stroke-width="0.2"/>
<line x1="636" y1="485.5" x2="892.9" y2="485.5" stroke="#111" stroke-width="1"/>
<path d="M636 485.5 L639.2 484.4 L639.2 486.6 Z" fill="#000" stroke="#111" stroke-width="0.2"/>
<path d="M892.9 485.5 L889.7 484.4 L889.7 486.6 Z" fill="#000" stroke="#111" stroke-width="0.2"/>
<line x1="916" y1="36.5" x2="999" y2="36.5" stroke="#111" stroke-width="1"/>
<line x1="996.5" y1="36.2" x2="996.5" y2="430.8" stroke="#111" stroke-width="1"/>
<path d="M996.2 36.2 L995.1 39.4 L997.3 39.4 Z" fill="#000" stroke="#111" stroke-width="0.2"/>
<path d="M996.2 430.8 L995.1 427.6 L997.3 427.6 Z" fill="#000" stroke="#111" stroke-width="0.2"/>
<g opacity="0.99" fill="#000"><text x="232" y="10.9" font-size="7.8" text-anchor="middle" font-weight="bold" stroke="#000" stroke-width="0.4" textLength="13.5" lengthAdjust="spacingAndGlyphs">14000</text><text x="208" y="29.9" font-size="7.8" text-anchor="middle" font-weight="bold" stroke="#000" stroke-width="0.4" textLength="13.5" lengthAdjust="spacingAndGlyphs">11000</text><text x="396" y="29.9" font-size="7.8" text-anchor="middle" font-weight="bold" stroke="#000" stroke-width="0.4" textLength="10.5" lengthAdjust="spacingAndGlyphs">1500</text><text x="89" y="127.9" font-size="7.8" text-anchor="middle" font-weight="bold" stroke="#000" stroke-width="0.4" textLength="10.5" lengthAdjust="spacingAndGlyphs">3100</text><text x="219.5" y="127.9" font-size="7.8" text-anchor="middle" font-weight="bold" stroke="#000" stroke-width="0.4" textLength="10.5" lengthAdjust="spacingAndGlyphs">5800</text><text x="327" y="127.9" font-size="7.8" text-anchor="middle" font-weight="bold" stroke="#000" stroke-width="0.4" textLength="10.5" lengthAdjust="spacingAndGlyphs">3000</text><text x="370" y="197.9" font-size="7.8" text-anchor="middle" font-weight="bold" stroke="#000" stroke-width="0.4" textLength="10.5" lengthAdjust="spacingAndGlyphs">3100</text><text x="12" y="287.3" font-size="8.3" text-anchor="middle" font-weight="normal" textLength="4" lengthAdjust="spacingAndGlyphs">5</text><text x="200.3" y="493.2" font-size="8.3" text-anchor="middle" font-weight="normal" textLength="3.2" lengthAdjust="spacingAndGlyphs">1</text><text x="85.5" y="456.9" font-size="7.8" text-anchor="middle" font-weight="bold" stroke="#000" stroke-width="0.4" textLength="10" lengthAdjust="spacingAndGlyphs">1700</text><text x="267.5" y="456.9" font-size="7.8" text-anchor="middle" font-weight="bold" stroke="#000" stroke-width="0.4" textLength="13" lengthAdjust="spacingAndGlyphs">10500</text><text x="482" y="346.3" font-size="8.3" text-anchor="middle" font-weight="normal" textLength="4" lengthAdjust="spacingAndGlyphs">2</text><text x="482" y="229.3" font-size="8.3" text-anchor="middle" font-weight="normal" textLength="4" lengthAdjust="spacingAndGlyphs">3</text><text x="482" y="115.3" font-size="8.3" text-anchor="middle" font-weight="normal" textLength="4" lengthAdjust="spacingAndGlyphs">4</text><text x="764.8" y="9.9" font-size="7.8" text-anchor="middle" font-weight="bold" stroke="#000" stroke-width="0.4" textLength="11.8" lengthAdjust="spacingAndGlyphs">11200</text><text x="764.5" y="25.9" font-size="7.8" text-anchor="middle" font-weight="bold" stroke="#000" stroke-width="0.4" textLength="13" lengthAdjust="spacingAndGlyphs">10600</text><text x="675.2" y="295" font-size="7.8" text-anchor="middle" font-weight="bold" stroke="#000" stroke-width="0.4" transform="rotate(-90 675.2 295)" textLength="13" lengthAdjust="spacingAndGlyphs">10000</text><text x="675.2" y="479" font-size="7.8" text-anchor="middle" font-weight="bold" stroke="#000" stroke-width="0.4" transform="rotate(-90 675.2 479)" textLength="10.5" lengthAdjust="spacingAndGlyphs">4400</text><text x="764.5" y="380.9" font-size="7.8" text-anchor="middle" font-weight="bold" stroke="#000" stroke-width="0.4" textLength="10.5" lengthAdjust="spacingAndGlyphs">6000</text><text x="764.5" y="449.9" font-size="7.8" text-anchor="middle" font-weight="bold" stroke="#000" stroke-width="0.4" textLength="10.5" lengthAdjust="spacingAndGlyphs">7600</text><text x="764.5" y="460.9" font-size="7.8" text-anchor="middle" font-weight="bold" stroke="#000" stroke-width="0.4" textLength="10.5" lengthAdjust="spacingAndGlyphs">8500</text><text x="764.5" y="484.9" font-size="7.8" text-anchor="middle" font-weight="bold" stroke="#000" stroke-width="0.4" textLength="12.5" lengthAdjust="spacingAndGlyphs">10600</text><text x="994.5" y="234" font-size="7.8" text-anchor="middle" font-weight="bold" stroke="#000" stroke-width="0.4" transform="rotate(-90 994.5 234)" textLength="13" lengthAdjust="spacingAndGlyphs">20000</text></g>
</svg>
</body></html>
